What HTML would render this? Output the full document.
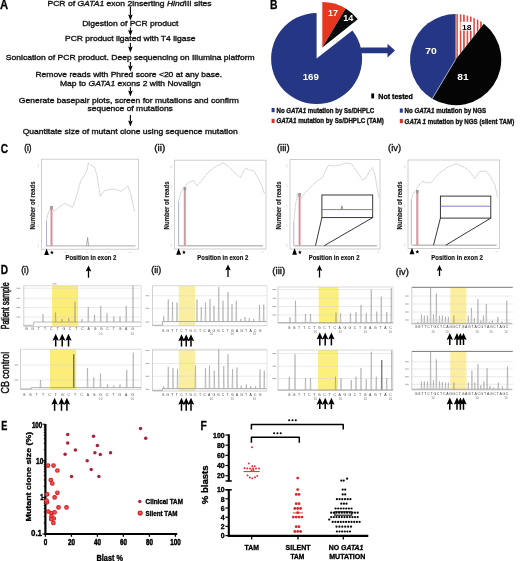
<!DOCTYPE html>
<html><head><meta charset="utf-8"><style>
html,body{margin:0;padding:0;background:#fff;}
svg{display:block;font-family:"Liberation Sans", sans-serif;filter:blur(0.35px);}
</style></head><body>
<svg width="520" height="561" viewBox="0 0 520 561">
<rect width="520" height="561" fill="#fff"/>
<text transform="translate(0.00,8.50) scale(0.9045,1)" font-size="12.40" fill="#000" stroke="#000" stroke-width="0.28" stroke-linejoin="round"><tspan font-weight="bold" font-style="normal">A</tspan></text>
<text transform="translate(47.50,5.60) scale(1.1277,1)" font-size="7.60" fill="#161616" stroke="#161616" stroke-width="0.36" stroke-linejoin="round"><tspan font-weight="normal" font-style="normal">PCR of </tspan><tspan font-weight="normal" font-style="italic">GATA1</tspan><tspan font-weight="normal" font-style="normal"> exon 2inserting </tspan><tspan font-weight="normal" font-style="italic">Hind</tspan><tspan font-weight="normal" font-style="normal">III sites</tspan></text>
<text transform="translate(82.20,25.50) scale(1.1230,1)" font-size="7.60" fill="#161616" stroke="#161616" stroke-width="0.36" stroke-linejoin="round"><tspan font-weight="normal" font-style="normal">Digestion of PCR product</tspan></text>
<text transform="translate(65.00,40.90) scale(1.1215,1)" font-size="7.60" fill="#161616" stroke="#161616" stroke-width="0.36" stroke-linejoin="round"><tspan font-weight="normal" font-style="normal">PCR product ligated with T4 ligase</tspan></text>
<text transform="translate(5.80,59.70) scale(1.1266,1)" font-size="7.60" fill="#161616" stroke="#161616" stroke-width="0.36" stroke-linejoin="round"><tspan font-weight="normal" font-style="normal">Sonication of PCR product. Deep sequencing on Illumina platform</tspan></text>
<text transform="translate(35.40,76.70) scale(1.1226,1)" font-size="7.60" fill="#161616" stroke="#161616" stroke-width="0.36" stroke-linejoin="round"><tspan font-weight="normal" font-style="normal">Remove reads with Phred score &lt;20 at any base.</tspan></text>
<text transform="translate(60.00,85.70) scale(1.1248,1)" font-size="7.60" fill="#161616" stroke="#161616" stroke-width="0.36" stroke-linejoin="round"><tspan font-weight="normal" font-style="normal">Map to </tspan><tspan font-weight="normal" font-style="italic">GATA1</tspan><tspan font-weight="normal" font-style="normal"> exons 2 with Novalign</tspan></text>
<text transform="translate(18.80,102.70) scale(1.1244,1)" font-size="7.60" fill="#161616" stroke="#161616" stroke-width="0.36" stroke-linejoin="round"><tspan font-weight="normal" font-style="normal">Generate basepair plots, screen for mutations and confirm</tspan></text>
<text transform="translate(87.50,110.80) scale(1.1180,1)" font-size="7.60" fill="#161616" stroke="#161616" stroke-width="0.36" stroke-linejoin="round"><tspan font-weight="normal" font-style="normal">sequence of mutations</tspan></text>
<text transform="translate(22.70,133.70) scale(1.1244,1)" font-size="7.60" fill="#161616" stroke="#161616" stroke-width="0.36" stroke-linejoin="round"><tspan font-weight="normal" font-style="normal">Quantitate size of mutant clone using sequence mutation</tspan></text>
<line x1="130.40" y1="6.50" x2="130.40" y2="15.50" stroke="#000" stroke-width="1.10" />
<polygon points="130.40,20.50 128.10,14.50 130.40,15.50 132.70,14.50" fill="#000" />
<line x1="130.40" y1="27.50" x2="130.40" y2="31.00" stroke="#000" stroke-width="1.10" />
<polygon points="130.40,36.00 128.10,30.00 130.40,31.00 132.70,30.00" fill="#000" />
<line x1="130.40" y1="43.00" x2="130.40" y2="47.50" stroke="#000" stroke-width="1.10" />
<polygon points="130.40,52.50 128.10,46.50 130.40,47.50 132.70,46.50" fill="#000" />
<line x1="130.40" y1="62.00" x2="130.40" y2="66.50" stroke="#000" stroke-width="1.10" />
<polygon points="130.40,71.50 128.10,65.50 130.40,66.50 132.70,65.50" fill="#000" />
<line x1="130.40" y1="87.00" x2="130.40" y2="91.50" stroke="#000" stroke-width="1.10" />
<polygon points="130.40,96.50 128.10,90.50 130.40,91.50 132.70,90.50" fill="#000" />
<line x1="130.40" y1="115.00" x2="130.40" y2="121.50" stroke="#000" stroke-width="1.10" />
<polygon points="130.40,126.50 128.10,120.50 130.40,121.50 132.70,120.50" fill="#000" />
<text transform="translate(270.00,8.70) scale(0.8512,1)" font-size="12.20" fill="#000" stroke="#000" stroke-width="0.29" stroke-linejoin="round"><tspan font-weight="bold" font-style="normal">B</tspan></text>
<path d="M316.60,58.60 L352.36,30.46 A45.50,45.50 0 1 1 316.60,13.10 Z" fill="#243684" />
<path d="M322.30,47.60 L322.30,2.10 A45.50,45.50 0 0 1 345.60,8.52 Z" fill="#e4371e" />
<path d="M322.30,47.60 L345.60,8.52 A45.50,45.50 0 0 1 357.81,19.15 Z" fill="#0a0a0a" />
<polygon points="360.50,47.60 387.50,47.60 387.50,43.80 395.00,50.50 387.50,57.40 387.50,53.30 360.50,53.30" fill="#243684" />
<defs><pattern id="stp" patternUnits="userSpaceOnUse" width="3.4" height="10" x="456.4"><rect x="0" y="0" width="1.5" height="10" fill="#d8402c"/></pattern></defs>
<path d="M455.60,59.60 L455.60,14.00 A45.60,45.60 0 0 1 483.86,23.81 Z" fill="#fff" />
<path d="M455.60,59.60 L455.60,14.00 A45.60,45.60 0 0 1 483.86,23.81 Z" fill="url(#stp)" />
<path d="M455.60,59.60 L483.86,23.81 A45.60,45.60 0 0 1 432.18,98.73 Z" fill="#050505" />
<path d="M455.60,59.60 L432.18,98.73 A45.60,45.60 0 0 1 455.60,14.00 Z" fill="#243684" />
<line x1="455.60" y1="59.60" x2="432.18" y2="98.73" stroke="#c8cce0" stroke-width="0.70" />
<text transform="translate(302.70,79.70) scale(1.1033,1)" font-size="8.80" fill="#fff"><tspan font-weight="bold" font-style="normal">169</tspan></text>
<text transform="translate(328.00,15.80) scale(1.0012,1)" font-size="8.80" fill="#fff"><tspan font-weight="bold" font-style="normal">17</tspan></text>
<text transform="translate(343.20,21.20) scale(1.0318,1)" font-size="8.80" fill="#fff"><tspan font-weight="bold" font-style="normal">14</tspan></text>
<text transform="translate(425.20,53.80) scale(1.1850,1)" font-size="8.80" fill="#fff"><tspan font-weight="bold" font-style="normal">70</tspan></text>
<text transform="translate(457.20,80.30) scale(1.1646,1)" font-size="8.80" fill="#fff"><tspan font-weight="bold" font-style="normal">81</tspan></text>
<rect x="460.50" y="21.80" width="12.50" height="8.80" fill="#fff" />
<text transform="translate(462.00,29.90) scale(1.1238,1)" font-size="7.60" fill="#000"><tspan font-weight="bold" font-style="normal">18</tspan></text>
<rect x="371.30" y="93.40" width="2.80" height="5.00" fill="#000" />
<text transform="translate(378.30,98.60) scale(0.9563,1)" font-size="7.40" fill="#000" stroke="#000" stroke-width="0.31" stroke-linejoin="round"><tspan font-weight="bold" font-style="normal">Not tested</tspan></text>
<rect x="271.60" y="108.00" width="3.00" height="4.20" fill="#2b3a8c" />
<text transform="translate(276.50,112.60) scale(0.8259,1)" font-size="7.40" fill="#111" stroke="#111" stroke-width="0.36" stroke-linejoin="round"><tspan font-weight="bold" font-style="normal">No </tspan><tspan font-weight="bold" font-style="italic">GATA1</tspan><tspan font-weight="bold" font-style="normal"> mutation by Ss/DHPLC</tspan></text>
<rect x="271.60" y="118.80" width="3.00" height="4.20" fill="#d8302a" />
<text transform="translate(276.50,123.40) scale(0.8328,1)" font-size="7.40" fill="#111" stroke="#111" stroke-width="0.36" stroke-linejoin="round"><tspan font-weight="bold" font-style="italic">GATA1</tspan><tspan font-weight="bold" font-style="normal"> mutation by Ss/DHPLC (TAM)</tspan></text>
<rect x="399.80" y="108.50" width="3.00" height="4.20" fill="#2b3a8c" />
<text transform="translate(404.60,113.10) scale(0.8338,1)" font-size="7.40" fill="#111" stroke="#111" stroke-width="0.36" stroke-linejoin="round"><tspan font-weight="bold" font-style="normal">No </tspan><tspan font-weight="bold" font-style="italic">GATA1</tspan><tspan font-weight="bold" font-style="normal"> mutation by NGS</tspan></text>
<rect x="399.80" y="119.00" width="3.00" height="4.20" fill="#d8302a" />
<text transform="translate(404.60,123.60) scale(0.8345,1)" font-size="7.40" fill="#111" stroke="#111" stroke-width="0.36" stroke-linejoin="round"><tspan font-weight="bold" font-style="italic">GATA 1</tspan><tspan font-weight="bold" font-style="normal"> mutation by NGS (silent TAM)</tspan></text>
<text transform="translate(0.80,153.10) scale(0.8152,1)" font-size="12.40" fill="#000" stroke="#000" stroke-width="0.31" stroke-linejoin="round"><tspan font-weight="bold" font-style="normal">C</tspan></text>
<text transform="translate(24.20,151.20) scale(0.8933,1)" font-size="9.20" fill="#111" stroke="#111" stroke-width="0.39" stroke-linejoin="round"><tspan font-weight="normal" font-style="normal">(i)</tspan></text>
<rect x="41.50" y="159.20" width="97.00" height="90.00" fill="none" stroke="#c4c4c4" stroke-width="0.8"/>
<line x1="38.30" y1="244.20" x2="38.30" y2="247.20" stroke="#c8c8c8" stroke-width="0.60" />
<line x1="38.30" y1="224.20" x2="38.30" y2="227.20" stroke="#c8c8c8" stroke-width="0.60" />
<line x1="38.30" y1="204.20" x2="38.30" y2="207.20" stroke="#c8c8c8" stroke-width="0.60" />
<line x1="38.30" y1="184.20" x2="38.30" y2="187.20" stroke="#c8c8c8" stroke-width="0.60" />
<line x1="38.30" y1="164.20" x2="38.30" y2="167.20" stroke="#c8c8c8" stroke-width="0.60" />
<line x1="64.30" y1="252.40" x2="66.70" y2="252.40" stroke="#c8c8c8" stroke-width="0.60" />
<line x1="85.80" y1="252.40" x2="88.20" y2="252.40" stroke="#c8c8c8" stroke-width="0.60" />
<line x1="107.30" y1="252.40" x2="109.70" y2="252.40" stroke="#c8c8c8" stroke-width="0.60" />
<line x1="128.80" y1="252.40" x2="131.20" y2="252.40" stroke="#c8c8c8" stroke-width="0.60" />
<polyline points="46.30,220.80 48.00,214.00 51.20,206.00 53.80,211.40 58.00,208.00 64.60,203.30 68.00,205.00 72.70,207.30 76.00,198.00 80.80,180.40 84.00,176.00 86.20,172.30 87.50,168.00 88.30,162.90 91.00,165.00 94.20,167.00 97.00,175.00 100.20,196.50 104.00,191.00 107.70,189.80 114.00,189.00 121.20,191.20 124.00,189.00 127.90,185.80 131.00,195.00 134.60,211.30" fill="none" stroke="#b4b4b4" stroke-width="0.70" stroke-linejoin="round" stroke-dasharray="1.4,0.5"/>
<line x1="46.00" y1="245.90" x2="135.50" y2="245.90" stroke="#bdbdbd" stroke-width="1.40" />
<line x1="46.50" y1="220.80" x2="46.50" y2="246.20" stroke="#8e8ed8" stroke-width="0.70" />
<rect x="50.30" y="206.00" width="2.40" height="40.20" fill="#eab4b8" />
<line x1="51.40" y1="206.00" x2="51.40" y2="246.20" stroke="#7a7a7a" stroke-width="0.45" />
<rect x="50.30" y="206.00" width="2.40" height="3.50" fill="#9a9a9a" />
<polyline points="86.60,245.90 87.60,237.50 88.60,245.90" fill="none" stroke="#777" stroke-width="0.60" stroke-linejoin="round" />
<text transform="translate(35.10,229.40) rotate(-90) scale(0.8754,1)" font-size="6.90" fill="#1a1a1a" stroke="#1a1a1a" stroke-width="0.17" stroke-linejoin="round"><tspan font-weight="bold" font-style="normal">Number of reads</tspan></text>
<polygon points="46.60,248.40 44.20,255.00 49.00,255.00" fill="#000" />
<polygon points="51.90,250.50 52.43,251.77 53.80,251.88 52.76,252.78 53.08,254.12 51.90,253.40 50.72,254.12 51.04,252.78 50.00,251.88 51.37,251.77" fill="#000" />
<text transform="translate(65.40,259.60) scale(0.9048,1)" font-size="6.60" fill="#111" stroke="#111" stroke-width="0.17" stroke-linejoin="round"><tspan font-weight="bold" font-style="normal">Position in exon 2</tspan></text>
<text transform="translate(154.20,151.20) scale(1.0963,1)" font-size="9.20" fill="#111" stroke="#111" stroke-width="0.35" stroke-linejoin="round"><tspan font-weight="normal" font-style="normal">(ii)</tspan></text>
<rect x="174.40" y="160.20" width="91.60" height="88.80" fill="none" stroke="#c4c4c4" stroke-width="0.8"/>
<line x1="171.20" y1="244.00" x2="171.20" y2="247.00" stroke="#c8c8c8" stroke-width="0.60" />
<line x1="171.20" y1="224.30" x2="171.20" y2="227.30" stroke="#c8c8c8" stroke-width="0.60" />
<line x1="171.20" y1="204.60" x2="171.20" y2="207.60" stroke="#c8c8c8" stroke-width="0.60" />
<line x1="171.20" y1="184.90" x2="171.20" y2="187.90" stroke="#c8c8c8" stroke-width="0.60" />
<line x1="171.20" y1="165.20" x2="171.20" y2="168.20" stroke="#c8c8c8" stroke-width="0.60" />
<line x1="197.20" y1="252.20" x2="199.60" y2="252.20" stroke="#c8c8c8" stroke-width="0.60" />
<line x1="218.70" y1="252.20" x2="221.10" y2="252.20" stroke="#c8c8c8" stroke-width="0.60" />
<line x1="240.20" y1="252.20" x2="242.60" y2="252.20" stroke="#c8c8c8" stroke-width="0.60" />
<line x1="261.70" y1="252.20" x2="264.10" y2="252.20" stroke="#c8c8c8" stroke-width="0.60" />
<polyline points="178.50,202.00 181.00,192.00 183.80,187.00 188.00,183.00 193.30,180.40 197.30,185.80 202.00,180.00 208.00,172.30 215.00,167.00 222.90,162.90 228.00,166.00 234.00,172.00 240.40,177.70 243.00,172.00 245.80,168.30 250.00,170.00 253.90,171.00 258.00,178.00 262.00,186.00 264.60,193.80" fill="none" stroke="#b4b4b4" stroke-width="0.70" stroke-linejoin="round" stroke-dasharray="1.4,0.5"/>
<line x1="178.90" y1="245.70" x2="263.00" y2="245.70" stroke="#bdbdbd" stroke-width="1.40" />
<line x1="178.60" y1="202.00" x2="178.60" y2="246.00" stroke="#8e8ed8" stroke-width="0.70" />
<rect x="183.70" y="187.00" width="2.40" height="59.00" fill="#eab4b8" />
<line x1="184.80" y1="187.00" x2="184.80" y2="246.00" stroke="#7a7a7a" stroke-width="0.45" />
<rect x="183.70" y="187.00" width="2.40" height="3.50" fill="#9a9a9a" />
<text transform="translate(168.70,229.40) rotate(-90) scale(0.8754,1)" font-size="6.90" fill="#1a1a1a" stroke="#1a1a1a" stroke-width="0.17" stroke-linejoin="round"><tspan font-weight="bold" font-style="normal">Number of reads</tspan></text>
<polygon points="178.60,248.20 176.20,254.80 181.00,254.80" fill="#000" />
<polygon points="183.90,250.30 184.43,251.57 185.80,251.68 184.76,252.58 185.08,253.92 183.90,253.20 182.72,253.92 183.04,252.58 182.00,251.68 183.37,251.57" fill="#000" />
<text transform="translate(197.30,259.60) scale(0.9066,1)" font-size="6.60" fill="#111" stroke="#111" stroke-width="0.17" stroke-linejoin="round"><tspan font-weight="bold" font-style="normal">Position in exon 2</tspan></text>
<text transform="translate(276.90,151.20) scale(1.0359,1)" font-size="9.20" fill="#111" stroke="#111" stroke-width="0.35" stroke-linejoin="round"><tspan font-weight="normal" font-style="normal">(iii)</tspan></text>
<rect x="290.00" y="159.50" width="90.00" height="89.50" fill="none" stroke="#c4c4c4" stroke-width="0.8"/>
<line x1="286.80" y1="244.00" x2="286.80" y2="247.00" stroke="#c8c8c8" stroke-width="0.60" />
<line x1="286.80" y1="224.12" x2="286.80" y2="227.12" stroke="#c8c8c8" stroke-width="0.60" />
<line x1="286.80" y1="204.25" x2="286.80" y2="207.25" stroke="#c8c8c8" stroke-width="0.60" />
<line x1="286.80" y1="184.38" x2="286.80" y2="187.38" stroke="#c8c8c8" stroke-width="0.60" />
<line x1="286.80" y1="164.50" x2="286.80" y2="167.50" stroke="#c8c8c8" stroke-width="0.60" />
<line x1="312.80" y1="252.20" x2="315.20" y2="252.20" stroke="#c8c8c8" stroke-width="0.60" />
<line x1="334.30" y1="252.20" x2="336.70" y2="252.20" stroke="#c8c8c8" stroke-width="0.60" />
<line x1="355.80" y1="252.20" x2="358.20" y2="252.20" stroke="#c8c8c8" stroke-width="0.60" />
<line x1="377.30" y1="252.20" x2="379.70" y2="252.20" stroke="#c8c8c8" stroke-width="0.60" />
<polyline points="293.75,222.50 295.50,205.00 297.50,193.75 300.00,200.00 305.00,193.00 311.25,186.25 317.00,181.00 322.50,177.50 326.00,170.00 328.75,165.00 334.00,166.00 340.00,165.00 346.00,163.00 351.25,163.75 356.00,170.00 362.50,180.00 366.00,178.00 369.00,172.00 372.50,167.50 375.00,175.00 378.75,197.50" fill="none" stroke="#b4b4b4" stroke-width="0.70" stroke-linejoin="round" stroke-dasharray="1.4,0.5"/>
<line x1="294.50" y1="245.70" x2="377.00" y2="245.70" stroke="#bdbdbd" stroke-width="1.40" />
<line x1="293.80" y1="222.50" x2="293.80" y2="246.00" stroke="#8e8ed8" stroke-width="0.70" />
<rect x="298.40" y="193.00" width="2.40" height="53.00" fill="#eab4b8" />
<line x1="299.50" y1="193.00" x2="299.50" y2="246.00" stroke="#7a7a7a" stroke-width="0.45" />
<rect x="298.40" y="193.00" width="2.40" height="3.50" fill="#9a9a9a" />
<text transform="translate(280.60,229.40) rotate(-90) scale(0.8754,1)" font-size="6.90" fill="#1a1a1a" stroke="#1a1a1a" stroke-width="0.17" stroke-linejoin="round"><tspan font-weight="bold" font-style="normal">Number of reads</tspan></text>
<polygon points="294.60,248.20 292.20,254.80 297.00,254.80" fill="#000" />
<polygon points="299.90,250.30 300.43,251.57 301.80,251.68 300.76,252.58 301.08,253.92 299.90,253.20 298.72,253.92 299.04,252.58 298.00,251.68 299.37,251.57" fill="#000" />
<text transform="translate(308.75,259.60) scale(0.8986,1)" font-size="6.60" fill="#111" stroke="#111" stroke-width="0.17" stroke-linejoin="round"><tspan font-weight="bold" font-style="normal">Position in exon 2</tspan></text>
<rect x="321.90" y="195.00" width="50.80" height="22.60" fill="#fff" stroke="#222" stroke-width="0.9"/>
<line x1="321.90" y1="209.60" x2="372.70" y2="209.60" stroke="#7a6cc0" stroke-width="0.90" />
<line x1="321.90" y1="217.60" x2="315.50" y2="245.70" stroke="#222" stroke-width="0.90" />
<line x1="372.70" y1="217.60" x2="324.20" y2="245.70" stroke="#222" stroke-width="0.90" />
<text transform="translate(388.10,151.20) scale(1.0257,1)" font-size="9.20" fill="#111" stroke="#111" stroke-width="0.35" stroke-linejoin="round"><tspan font-weight="normal" font-style="normal">(iv)</tspan></text>
<rect x="408.00" y="160.00" width="91.60" height="88.50" fill="none" stroke="#c4c4c4" stroke-width="0.8"/>
<line x1="404.80" y1="243.50" x2="404.80" y2="246.50" stroke="#c8c8c8" stroke-width="0.60" />
<line x1="404.80" y1="223.88" x2="404.80" y2="226.88" stroke="#c8c8c8" stroke-width="0.60" />
<line x1="404.80" y1="204.25" x2="404.80" y2="207.25" stroke="#c8c8c8" stroke-width="0.60" />
<line x1="404.80" y1="184.62" x2="404.80" y2="187.62" stroke="#c8c8c8" stroke-width="0.60" />
<line x1="404.80" y1="165.00" x2="404.80" y2="168.00" stroke="#c8c8c8" stroke-width="0.60" />
<line x1="430.80" y1="251.70" x2="433.20" y2="251.70" stroke="#c8c8c8" stroke-width="0.60" />
<line x1="452.30" y1="251.70" x2="454.70" y2="251.70" stroke="#c8c8c8" stroke-width="0.60" />
<line x1="473.80" y1="251.70" x2="476.20" y2="251.70" stroke="#c8c8c8" stroke-width="0.60" />
<line x1="495.30" y1="251.70" x2="497.70" y2="251.70" stroke="#c8c8c8" stroke-width="0.60" />
<polyline points="411.25,200.00 413.00,194.00 416.25,190.00 419.00,185.00 422.50,181.25 427.00,183.00 431.25,182.50 436.00,177.00 440.00,172.50 448.00,167.00 456.25,163.75 465.00,167.50 470.00,172.00 475.00,178.75 478.00,174.00 480.00,171.25 486.25,171.25 490.00,176.00 495.00,185.00 497.50,197.50" fill="none" stroke="#b4b4b4" stroke-width="0.70" stroke-linejoin="round" stroke-dasharray="1.4,0.5"/>
<line x1="412.50" y1="245.20" x2="496.60" y2="245.20" stroke="#bdbdbd" stroke-width="1.40" />
<line x1="411.30" y1="200.00" x2="411.30" y2="245.50" stroke="#8e8ed8" stroke-width="0.70" />
<rect x="416.10" y="190.00" width="2.40" height="55.50" fill="#eab4b8" />
<line x1="417.20" y1="190.00" x2="417.20" y2="245.50" stroke="#7a7a7a" stroke-width="0.45" />
<rect x="416.10" y="190.00" width="2.40" height="3.50" fill="#9a9a9a" />
<text transform="translate(402.20,229.40) rotate(-90) scale(0.8754,1)" font-size="6.90" fill="#1a1a1a" stroke="#1a1a1a" stroke-width="0.17" stroke-linejoin="round"><tspan font-weight="bold" font-style="normal">Number of reads</tspan></text>
<polygon points="412.00,247.70 409.60,254.30 414.40,254.30" fill="#000" />
<polygon points="417.30,249.80 417.83,251.07 419.20,251.18 418.16,252.08 418.48,253.42 417.30,252.70 416.12,253.42 416.44,252.08 415.40,251.18 416.77,251.07" fill="#000" />
<text transform="translate(431.25,259.60) scale(0.9163,1)" font-size="6.60" fill="#111" stroke="#111" stroke-width="0.16" stroke-linejoin="round"><tspan font-weight="bold" font-style="normal">Position in exon 2</tspan></text>
<rect x="440.40" y="196.10" width="50.40" height="22.00" fill="#fff" stroke="#222" stroke-width="0.9"/>
<line x1="440.40" y1="206.20" x2="490.80" y2="206.20" stroke="#7a6cc0" stroke-width="0.90" />
<line x1="440.40" y1="218.10" x2="433.50" y2="245.20" stroke="#222" stroke-width="0.90" />
<line x1="490.80" y1="218.10" x2="445.80" y2="245.20" stroke="#222" stroke-width="0.90" />
<polyline points="341.00,209.60 341.90,205.80 342.80,209.60" fill="none" stroke="#555" stroke-width="0.60" stroke-linejoin="round" />
<text transform="translate(0.80,274.20) scale(0.8423,1)" font-size="12.00" fill="#000" stroke="#000" stroke-width="0.30" stroke-linejoin="round"><tspan font-weight="bold" font-style="normal">D</tspan></text>
<text transform="translate(21.20,273.10) scale(0.9102,1)" font-size="9.40" fill="#111" stroke="#111" stroke-width="0.38" stroke-linejoin="round"><tspan font-weight="normal" font-style="normal">(i)</tspan></text>
<text transform="translate(151.30,272.80) scale(0.9580,1)" font-size="9.40" fill="#111" stroke="#111" stroke-width="0.37" stroke-linejoin="round"><tspan font-weight="normal" font-style="normal">(ii)</tspan></text>
<text transform="translate(272.20,274.30) scale(1.0457,1)" font-size="9.40" fill="#111" stroke="#111" stroke-width="0.35" stroke-linejoin="round"><tspan font-weight="normal" font-style="normal">(iii)</tspan></text>
<text transform="translate(395.80,275.00) scale(0.9962,1)" font-size="9.40" fill="#111" stroke="#111" stroke-width="0.35" stroke-linejoin="round"><tspan font-weight="normal" font-style="normal">(iv)</tspan></text>
<polygon points="88.50,265.60 85.70,271.60 88.50,270.40 91.30,271.60" fill="#000" />
<line x1="88.50" y1="270.10" x2="88.50" y2="277.70" stroke="#000" stroke-width="1.30" />
<polygon points="228.00,264.50 225.20,270.50 228.00,269.30 230.80,270.50" fill="#000" />
<line x1="228.00" y1="269.00" x2="228.00" y2="277.00" stroke="#000" stroke-width="1.30" />
<polygon points="319.50,265.00 316.70,271.00 319.50,269.80 322.30,271.00" fill="#000" />
<line x1="319.50" y1="269.50" x2="319.50" y2="277.50" stroke="#000" stroke-width="1.30" />
<polygon points="439.50,265.00 436.70,271.00 439.50,269.80 442.30,271.00" fill="#000" />
<line x1="439.50" y1="269.50" x2="439.50" y2="276.00" stroke="#000" stroke-width="1.30" />
<text transform="translate(8.90,329.30) rotate(-90) scale(0.7105,1)" font-size="10.00" fill="#111" stroke="#111" stroke-width="0.56" stroke-linejoin="round"><tspan font-weight="normal" font-style="normal">Patient sample</tspan></text>
<text transform="translate(8.90,393.50) rotate(-90) scale(0.8932,1)" font-size="10.00" fill="#111" stroke="#111" stroke-width="0.45" stroke-linejoin="round"><tspan font-weight="normal" font-style="normal">CB control</tspan></text>
<rect x="52.00" y="285.75" width="26.00" height="40.75" fill="#fcec78" />
<line x1="23.75" y1="285.75" x2="141.25" y2="285.75" stroke="#c9c9c9" stroke-width="0.70" />
<line x1="141.25" y1="285.75" x2="141.25" y2="326.50" stroke="#d0d0d0" stroke-width="0.60" />
<line x1="23.75" y1="288.25" x2="141.25" y2="288.25" stroke="#d6d6d6" stroke-width="0.50" />
<line x1="23.75" y1="298.25" x2="141.25" y2="298.25" stroke="#d6d6d6" stroke-width="0.50" />
<line x1="23.75" y1="307.50" x2="141.25" y2="307.50" stroke="#d6d6d6" stroke-width="0.50" />
<line x1="23.75" y1="317.00" x2="141.25" y2="317.00" stroke="#d6d6d6" stroke-width="0.50" />
<line x1="23.75" y1="285.75" x2="23.75" y2="326.50" stroke="#bdbdbd" stroke-width="0.70" />
<line x1="23.75" y1="326.50" x2="141.25" y2="326.50" stroke="#bdbdbd" stroke-width="0.70" />
<line x1="16.50" y1="288.25" x2="20.30" y2="288.25" stroke="#b0b0b0" stroke-width="1.00" />
<line x1="16.50" y1="298.25" x2="20.30" y2="298.25" stroke="#b0b0b0" stroke-width="1.00" />
<line x1="16.50" y1="307.50" x2="20.30" y2="307.50" stroke="#b0b0b0" stroke-width="1.00" />
<line x1="16.50" y1="317.00" x2="20.30" y2="317.00" stroke="#b0b0b0" stroke-width="1.00" />
<polyline points="23.75,325.30 33.75,325.30 33.75,322.00 141.00,322.00" fill="none" stroke="#8c8c8c" stroke-width="0.60" stroke-linejoin="round" />
<polyline points="42.55,322.00 43.00,314.00 43.45,322.00" fill="none" stroke="#8a8a8a" stroke-width="0.45" stroke-linejoin="round" />
<polyline points="55.05,322.00 55.50,312.50 55.95,322.00" fill="none" stroke="#8a8a8a" stroke-width="0.45" stroke-linejoin="round" />
<polyline points="61.55,322.00 62.00,319.00 62.45,322.00" fill="none" stroke="#8a8a8a" stroke-width="0.45" stroke-linejoin="round" />
<polyline points="68.30,322.00 68.75,318.25 69.20,322.00" fill="none" stroke="#8a8a8a" stroke-width="0.45" stroke-linejoin="round" />
<polyline points="74.55,322.00 75.00,301.50 75.45,322.00" fill="none" stroke="#8a8a8a" stroke-width="0.45" stroke-linejoin="round" />
<polyline points="81.55,322.00 82.00,319.00 82.45,322.00" fill="none" stroke="#8a8a8a" stroke-width="0.45" stroke-linejoin="round" />
<polyline points="87.80,322.00 88.25,307.00 88.70,322.00" fill="none" stroke="#8a8a8a" stroke-width="0.45" stroke-linejoin="round" />
<polyline points="94.05,322.00 94.50,314.50 94.95,322.00" fill="none" stroke="#8a8a8a" stroke-width="0.45" stroke-linejoin="round" />
<polyline points="100.30,322.00 100.75,305.75 101.20,322.00" fill="none" stroke="#8a8a8a" stroke-width="0.45" stroke-linejoin="round" />
<polyline points="106.55,322.00 107.00,313.25 107.45,322.00" fill="none" stroke="#8a8a8a" stroke-width="0.45" stroke-linejoin="round" />
<polyline points="113.30,322.00 113.75,316.50 114.20,322.00" fill="none" stroke="#8a8a8a" stroke-width="0.45" stroke-linejoin="round" />
<polyline points="119.55,322.00 120.00,316.50 120.45,322.00" fill="none" stroke="#8a8a8a" stroke-width="0.45" stroke-linejoin="round" />
<polyline points="125.80,322.00 126.25,305.75 126.70,322.00" fill="none" stroke="#8a8a8a" stroke-width="0.45" stroke-linejoin="round" />
<polyline points="132.55,322.00 133.00,285.75 133.45,322.00" fill="none" stroke="#8a8a8a" stroke-width="0.45" stroke-linejoin="round" />
<text x="26.25" y="330.40" font-size="3.5" fill="#444" text-anchor="middle">G</text>
<text x="32.50" y="330.40" font-size="3.5" fill="#444" text-anchor="middle">G</text>
<text x="38.75" y="330.40" font-size="3.5" fill="#444" text-anchor="middle">T</text>
<text x="45.00" y="330.40" font-size="3.5" fill="#444" text-anchor="middle">T</text>
<text x="51.25" y="330.40" font-size="3.5" fill="#444" text-anchor="middle">C</text>
<text x="57.50" y="330.40" font-size="3.5" fill="#444" text-anchor="middle">T</text>
<text x="63.75" y="330.40" font-size="3.5" fill="#444" text-anchor="middle">G</text>
<text x="70.00" y="330.40" font-size="3.5" fill="#444" text-anchor="middle">C</text>
<text x="76.25" y="330.40" font-size="3.5" fill="#444" text-anchor="middle">T</text>
<text x="82.50" y="330.40" font-size="3.5" fill="#444" text-anchor="middle">C</text>
<text x="88.75" y="330.40" font-size="3.5" fill="#444" text-anchor="middle">A</text>
<text x="95.00" y="330.40" font-size="3.5" fill="#444" text-anchor="middle">G</text>
<text x="101.25" y="330.40" font-size="3.5" fill="#444" text-anchor="middle">G</text>
<text x="107.50" y="330.40" font-size="3.5" fill="#444" text-anchor="middle">C</text>
<text x="113.75" y="330.40" font-size="3.5" fill="#444" text-anchor="middle">T</text>
<text x="120.00" y="330.40" font-size="3.5" fill="#444" text-anchor="middle">G</text>
<text x="126.25" y="330.40" font-size="3.5" fill="#444" text-anchor="middle">A</text>
<text x="132.50" y="330.40" font-size="3.5" fill="#444" text-anchor="middle">G</text>
<text x="100.75" y="335.10" font-size="3.0" fill="#777" text-anchor="middle">10</text>
<text x="132.50" y="335.10" font-size="3.0" fill="#777" text-anchor="middle">10</text>
<rect x="52.50" y="283.50" width="4.00" height="0.80" fill="#e07080" />
<rect x="50.00" y="349.25" width="26.25" height="40.00" fill="#fcec78" />
<line x1="20.50" y1="349.25" x2="141.25" y2="349.25" stroke="#c9c9c9" stroke-width="0.70" />
<line x1="141.25" y1="349.25" x2="141.25" y2="389.25" stroke="#d0d0d0" stroke-width="0.60" />
<line x1="20.50" y1="365.00" x2="141.25" y2="365.00" stroke="#d6d6d6" stroke-width="0.50" />
<line x1="20.50" y1="380.00" x2="141.25" y2="380.00" stroke="#d6d6d6" stroke-width="0.50" />
<line x1="20.50" y1="349.25" x2="20.50" y2="389.25" stroke="#bdbdbd" stroke-width="0.70" />
<line x1="20.50" y1="389.25" x2="141.25" y2="389.25" stroke="#bdbdbd" stroke-width="0.70" />
<line x1="14.50" y1="365.00" x2="18.30" y2="365.00" stroke="#b0b0b0" stroke-width="1.00" />
<line x1="14.50" y1="380.00" x2="18.30" y2="380.00" stroke="#b0b0b0" stroke-width="1.00" />
<polyline points="20.50,389.00 31.25,389.00 31.25,387.50 141.00,387.50" fill="none" stroke="#8c8c8c" stroke-width="0.60" stroke-linejoin="round" />
<polyline points="40.05,387.50 40.50,380.00 40.95,387.50" fill="none" stroke="#8a8a8a" stroke-width="0.45" stroke-linejoin="round" />
<polyline points="73.30,387.50 73.75,354.25 74.20,387.50" fill="none" stroke="#8a8a8a" stroke-width="0.45" stroke-linejoin="round" />
<polyline points="87.05,387.50 87.50,368.00 87.95,387.50" fill="none" stroke="#8a8a8a" stroke-width="0.45" stroke-linejoin="round" />
<polyline points="93.30,387.50 93.75,377.50 94.20,387.50" fill="none" stroke="#8a8a8a" stroke-width="0.45" stroke-linejoin="round" />
<polyline points="100.05,387.50 100.50,373.50 100.95,387.50" fill="none" stroke="#8a8a8a" stroke-width="0.45" stroke-linejoin="round" />
<polyline points="107.05,387.50 107.50,384.25 107.95,387.50" fill="none" stroke="#8a8a8a" stroke-width="0.45" stroke-linejoin="round" />
<polyline points="113.30,387.50 113.75,385.50 114.20,387.50" fill="none" stroke="#8a8a8a" stroke-width="0.45" stroke-linejoin="round" />
<polyline points="119.55,387.50 120.00,384.25 120.45,387.50" fill="none" stroke="#8a8a8a" stroke-width="0.45" stroke-linejoin="round" />
<polyline points="126.30,387.50 126.75,370.00 127.20,387.50" fill="none" stroke="#8a8a8a" stroke-width="0.45" stroke-linejoin="round" />
<polyline points="132.80,387.50 133.25,352.50 133.70,387.50" fill="none" stroke="#8a8a8a" stroke-width="0.45" stroke-linejoin="round" />
<text x="24.00" y="396.10" font-size="3.5" fill="#444" text-anchor="middle">G</text>
<text x="30.38" y="396.10" font-size="3.5" fill="#444" text-anchor="middle">G</text>
<text x="36.76" y="396.10" font-size="3.5" fill="#444" text-anchor="middle">T</text>
<text x="43.15" y="396.10" font-size="3.5" fill="#444" text-anchor="middle">T</text>
<text x="49.53" y="396.10" font-size="3.5" fill="#444" text-anchor="middle">C</text>
<text x="55.91" y="396.10" font-size="3.5" fill="#444" text-anchor="middle">T</text>
<text x="62.29" y="396.10" font-size="3.5" fill="#444" text-anchor="middle">G</text>
<text x="68.68" y="396.10" font-size="3.5" fill="#444" text-anchor="middle">C</text>
<text x="75.06" y="396.10" font-size="3.5" fill="#444" text-anchor="middle">T</text>
<text x="81.44" y="396.10" font-size="3.5" fill="#444" text-anchor="middle">C</text>
<text x="87.82" y="396.10" font-size="3.5" fill="#444" text-anchor="middle">A</text>
<text x="94.21" y="396.10" font-size="3.5" fill="#444" text-anchor="middle">G</text>
<text x="100.59" y="396.10" font-size="3.5" fill="#444" text-anchor="middle">G</text>
<text x="106.97" y="396.10" font-size="3.5" fill="#444" text-anchor="middle">C</text>
<text x="113.35" y="396.10" font-size="3.5" fill="#444" text-anchor="middle">T</text>
<text x="119.74" y="396.10" font-size="3.5" fill="#444" text-anchor="middle">G</text>
<text x="126.12" y="396.10" font-size="3.5" fill="#444" text-anchor="middle">A</text>
<text x="132.50" y="396.10" font-size="3.5" fill="#444" text-anchor="middle">G</text>
<text x="100.75" y="400.10" font-size="3.0" fill="#777" text-anchor="middle">10</text>
<text x="132.50" y="400.10" font-size="3.0" fill="#777" text-anchor="middle">10</text>
<line x1="73.75" y1="354.25" x2="73.75" y2="387.50" stroke="#555" stroke-width="0.90" />
<rect x="178.75" y="285.75" width="16.25" height="40.00" fill="#faeea0" />
<line x1="152.50" y1="285.75" x2="267.00" y2="285.75" stroke="#c9c9c9" stroke-width="0.70" />
<line x1="267.00" y1="285.75" x2="267.00" y2="325.75" stroke="#d0d0d0" stroke-width="0.60" />
<line x1="152.50" y1="295.75" x2="267.00" y2="295.75" stroke="#d6d6d6" stroke-width="0.50" />
<line x1="152.50" y1="308.25" x2="267.00" y2="308.25" stroke="#d6d6d6" stroke-width="0.50" />
<line x1="152.50" y1="322.00" x2="267.00" y2="322.00" stroke="#d6d6d6" stroke-width="0.50" />
<line x1="152.50" y1="285.75" x2="152.50" y2="325.75" stroke="#bdbdbd" stroke-width="0.70" />
<line x1="152.50" y1="325.75" x2="267.00" y2="325.75" stroke="#bdbdbd" stroke-width="0.70" />
<line x1="145.50" y1="295.75" x2="149.30" y2="295.75" stroke="#b0b0b0" stroke-width="1.00" />
<line x1="145.50" y1="308.25" x2="149.30" y2="308.25" stroke="#b0b0b0" stroke-width="1.00" />
<line x1="145.50" y1="322.00" x2="149.30" y2="322.00" stroke="#b0b0b0" stroke-width="1.00" />
<polyline points="152.50,325.20 162.50,325.20 162.50,321.50 266.50,321.50" fill="none" stroke="#8c8c8c" stroke-width="0.60" stroke-linejoin="round" />
<polyline points="163.30,321.50 163.75,315.75 164.20,321.50" fill="none" stroke="#8a8a8a" stroke-width="0.45" stroke-linejoin="round" />
<polyline points="167.80,321.50 168.25,299.50 168.70,321.50" fill="none" stroke="#8a8a8a" stroke-width="0.45" stroke-linejoin="round" />
<polyline points="172.05,321.50 172.50,302.00 172.95,321.50" fill="none" stroke="#8a8a8a" stroke-width="0.45" stroke-linejoin="round" />
<polyline points="176.55,321.50 177.00,302.50 177.45,321.50" fill="none" stroke="#8a8a8a" stroke-width="0.45" stroke-linejoin="round" />
<polyline points="196.55,321.50 197.00,299.50 197.45,321.50" fill="none" stroke="#8a8a8a" stroke-width="0.45" stroke-linejoin="round" />
<polyline points="200.80,321.50 201.25,307.00 201.70,321.50" fill="none" stroke="#8a8a8a" stroke-width="0.45" stroke-linejoin="round" />
<polyline points="205.05,321.50 205.50,302.50 205.95,321.50" fill="none" stroke="#8a8a8a" stroke-width="0.45" stroke-linejoin="round" />
<polyline points="209.55,321.50 210.00,299.00 210.45,321.50" fill="none" stroke="#8a8a8a" stroke-width="0.45" stroke-linejoin="round" />
<polyline points="213.55,321.50 214.00,305.75 214.45,321.50" fill="none" stroke="#8a8a8a" stroke-width="0.45" stroke-linejoin="round" />
<polyline points="218.30,321.50 218.75,287.00 219.20,321.50" fill="none" stroke="#8a8a8a" stroke-width="0.45" stroke-linejoin="round" />
<polyline points="222.55,321.50 223.00,300.75 223.45,321.50" fill="none" stroke="#8a8a8a" stroke-width="0.45" stroke-linejoin="round" />
<polyline points="227.55,321.50 228.00,292.00 228.45,321.50" fill="none" stroke="#8a8a8a" stroke-width="0.45" stroke-linejoin="round" />
<polyline points="231.55,321.50 232.00,304.00 232.45,321.50" fill="none" stroke="#8a8a8a" stroke-width="0.45" stroke-linejoin="round" />
<polyline points="235.80,321.50 236.25,300.75 236.70,321.50" fill="none" stroke="#8a8a8a" stroke-width="0.45" stroke-linejoin="round" />
<polyline points="240.30,321.50 240.75,319.00 241.20,321.50" fill="none" stroke="#8a8a8a" stroke-width="0.45" stroke-linejoin="round" />
<polyline points="244.55,321.50 245.00,317.00 245.45,321.50" fill="none" stroke="#8a8a8a" stroke-width="0.45" stroke-linejoin="round" />
<polyline points="248.80,321.50 249.25,318.25 249.70,321.50" fill="none" stroke="#8a8a8a" stroke-width="0.45" stroke-linejoin="round" />
<polyline points="253.30,321.50 253.75,319.00 254.20,321.50" fill="none" stroke="#8a8a8a" stroke-width="0.45" stroke-linejoin="round" />
<polyline points="259.05,321.50 259.50,305.00 259.95,321.50" fill="none" stroke="#8a8a8a" stroke-width="0.45" stroke-linejoin="round" />
<polyline points="263.30,321.50 263.75,304.50 264.20,321.50" fill="none" stroke="#8a8a8a" stroke-width="0.45" stroke-linejoin="round" />
<text x="163.00" y="331.50" font-size="3.5" fill="#444" text-anchor="middle">G</text>
<text x="167.62" y="331.50" font-size="3.5" fill="#444" text-anchor="middle">G</text>
<text x="172.24" y="331.50" font-size="3.5" fill="#444" text-anchor="middle">T</text>
<text x="176.86" y="331.50" font-size="3.5" fill="#444" text-anchor="middle">T</text>
<text x="181.48" y="331.50" font-size="3.5" fill="#444" text-anchor="middle">C</text>
<text x="186.10" y="331.50" font-size="3.5" fill="#444" text-anchor="middle">T</text>
<text x="190.71" y="331.50" font-size="3.5" fill="#444" text-anchor="middle">G</text>
<text x="195.33" y="331.50" font-size="3.5" fill="#444" text-anchor="middle">C</text>
<text x="199.95" y="331.50" font-size="3.5" fill="#444" text-anchor="middle">T</text>
<text x="204.57" y="331.50" font-size="3.5" fill="#444" text-anchor="middle">C</text>
<text x="209.19" y="331.50" font-size="3.5" fill="#444" text-anchor="middle">A</text>
<text x="213.81" y="331.50" font-size="3.5" fill="#444" text-anchor="middle">G</text>
<text x="218.43" y="331.50" font-size="3.5" fill="#444" text-anchor="middle">G</text>
<text x="223.05" y="331.50" font-size="3.5" fill="#444" text-anchor="middle">C</text>
<text x="227.67" y="331.50" font-size="3.5" fill="#444" text-anchor="middle">T</text>
<text x="232.29" y="331.50" font-size="3.5" fill="#444" text-anchor="middle">G</text>
<text x="236.90" y="331.50" font-size="3.5" fill="#444" text-anchor="middle">A</text>
<text x="241.52" y="331.50" font-size="3.5" fill="#444" text-anchor="middle">G</text>
<text x="246.14" y="331.50" font-size="3.5" fill="#444" text-anchor="middle">T</text>
<text x="250.76" y="331.50" font-size="3.5" fill="#444" text-anchor="middle">A</text>
<text x="255.38" y="331.50" font-size="3.5" fill="#444" text-anchor="middle">C</text>
<text x="260.00" y="331.50" font-size="3.5" fill="#444" text-anchor="middle">G</text>
<text x="211.25" y="335.10" font-size="3.0" fill="#777" text-anchor="middle">10</text>
<text x="232.50" y="335.10" font-size="3.0" fill="#777" text-anchor="middle">10</text>
<text x="254.50" y="335.10" font-size="3.0" fill="#777" text-anchor="middle">10</text>
<rect x="178.75" y="349.25" width="16.25" height="41.75" fill="#faeea0" />
<line x1="152.50" y1="349.25" x2="267.00" y2="349.25" stroke="#c9c9c9" stroke-width="0.70" />
<line x1="267.00" y1="349.25" x2="267.00" y2="391.00" stroke="#d0d0d0" stroke-width="0.60" />
<line x1="152.50" y1="350.50" x2="267.00" y2="350.50" stroke="#d6d6d6" stroke-width="0.50" />
<line x1="152.50" y1="363.50" x2="267.00" y2="363.50" stroke="#d6d6d6" stroke-width="0.50" />
<line x1="152.50" y1="376.25" x2="267.00" y2="376.25" stroke="#d6d6d6" stroke-width="0.50" />
<line x1="152.50" y1="389.25" x2="267.00" y2="389.25" stroke="#d6d6d6" stroke-width="0.50" />
<line x1="152.50" y1="349.25" x2="152.50" y2="391.00" stroke="#bdbdbd" stroke-width="0.70" />
<line x1="152.50" y1="391.00" x2="267.00" y2="391.00" stroke="#bdbdbd" stroke-width="0.70" />
<line x1="145.50" y1="350.50" x2="149.30" y2="350.50" stroke="#b0b0b0" stroke-width="1.00" />
<line x1="145.50" y1="363.50" x2="149.30" y2="363.50" stroke="#b0b0b0" stroke-width="1.00" />
<line x1="145.50" y1="376.25" x2="149.30" y2="376.25" stroke="#b0b0b0" stroke-width="1.00" />
<line x1="145.50" y1="389.25" x2="149.30" y2="389.25" stroke="#b0b0b0" stroke-width="1.00" />
<polyline points="152.50,390.60 162.50,390.60 162.50,388.50 266.50,388.50" fill="none" stroke="#8c8c8c" stroke-width="0.60" stroke-linejoin="round" />
<polyline points="163.30,388.50 163.75,386.00 164.20,388.50" fill="none" stroke="#8a8a8a" stroke-width="0.45" stroke-linejoin="round" />
<polyline points="167.80,388.50 168.25,366.75 168.70,388.50" fill="none" stroke="#8a8a8a" stroke-width="0.45" stroke-linejoin="round" />
<polyline points="172.55,388.50 173.00,368.00 173.45,388.50" fill="none" stroke="#8a8a8a" stroke-width="0.45" stroke-linejoin="round" />
<polyline points="177.05,388.50 177.50,369.25 177.95,388.50" fill="none" stroke="#8a8a8a" stroke-width="0.45" stroke-linejoin="round" />
<polyline points="195.05,388.50 195.50,365.50 195.95,388.50" fill="none" stroke="#8a8a8a" stroke-width="0.45" stroke-linejoin="round" />
<polyline points="205.05,388.50 205.50,368.00 205.95,388.50" fill="none" stroke="#8a8a8a" stroke-width="0.45" stroke-linejoin="round" />
<polyline points="209.05,388.50 209.50,365.50 209.95,388.50" fill="none" stroke="#8a8a8a" stroke-width="0.45" stroke-linejoin="round" />
<polyline points="213.80,388.50 214.25,370.50 214.70,388.50" fill="none" stroke="#8a8a8a" stroke-width="0.45" stroke-linejoin="round" />
<polyline points="218.30,388.50 218.75,349.25 219.20,388.50" fill="none" stroke="#8a8a8a" stroke-width="0.45" stroke-linejoin="round" />
<polyline points="223.30,388.50 223.75,366.00 224.20,388.50" fill="none" stroke="#8a8a8a" stroke-width="0.45" stroke-linejoin="round" />
<polyline points="227.55,388.50 228.00,354.25 228.45,388.50" fill="none" stroke="#8a8a8a" stroke-width="0.45" stroke-linejoin="round" />
<polyline points="232.05,388.50 232.50,369.25 232.95,388.50" fill="none" stroke="#8a8a8a" stroke-width="0.45" stroke-linejoin="round" />
<polyline points="236.55,388.50 237.00,367.50 237.45,388.50" fill="none" stroke="#8a8a8a" stroke-width="0.45" stroke-linejoin="round" />
<polyline points="240.80,388.50 241.25,385.50 241.70,388.50" fill="none" stroke="#8a8a8a" stroke-width="0.45" stroke-linejoin="round" />
<polyline points="245.80,388.50 246.25,384.25 246.70,388.50" fill="none" stroke="#8a8a8a" stroke-width="0.45" stroke-linejoin="round" />
<polyline points="250.05,388.50 250.50,386.00 250.95,388.50" fill="none" stroke="#8a8a8a" stroke-width="0.45" stroke-linejoin="round" />
<polyline points="255.05,388.50 255.50,386.00 255.95,388.50" fill="none" stroke="#8a8a8a" stroke-width="0.45" stroke-linejoin="round" />
<polyline points="259.55,388.50 260.00,369.25 260.45,388.50" fill="none" stroke="#8a8a8a" stroke-width="0.45" stroke-linejoin="round" />
<polyline points="263.80,388.50 264.25,370.50 264.70,388.50" fill="none" stroke="#8a8a8a" stroke-width="0.45" stroke-linejoin="round" />
<text x="163.00" y="396.20" font-size="3.5" fill="#444" text-anchor="middle">G</text>
<text x="167.62" y="396.20" font-size="3.5" fill="#444" text-anchor="middle">G</text>
<text x="172.24" y="396.20" font-size="3.5" fill="#444" text-anchor="middle">T</text>
<text x="176.86" y="396.20" font-size="3.5" fill="#444" text-anchor="middle">T</text>
<text x="181.48" y="396.20" font-size="3.5" fill="#444" text-anchor="middle">C</text>
<text x="186.10" y="396.20" font-size="3.5" fill="#444" text-anchor="middle">T</text>
<text x="190.71" y="396.20" font-size="3.5" fill="#444" text-anchor="middle">G</text>
<text x="195.33" y="396.20" font-size="3.5" fill="#444" text-anchor="middle">C</text>
<text x="199.95" y="396.20" font-size="3.5" fill="#444" text-anchor="middle">T</text>
<text x="204.57" y="396.20" font-size="3.5" fill="#444" text-anchor="middle">C</text>
<text x="209.19" y="396.20" font-size="3.5" fill="#444" text-anchor="middle">A</text>
<text x="213.81" y="396.20" font-size="3.5" fill="#444" text-anchor="middle">G</text>
<text x="218.43" y="396.20" font-size="3.5" fill="#444" text-anchor="middle">G</text>
<text x="223.05" y="396.20" font-size="3.5" fill="#444" text-anchor="middle">C</text>
<text x="227.67" y="396.20" font-size="3.5" fill="#444" text-anchor="middle">T</text>
<text x="232.29" y="396.20" font-size="3.5" fill="#444" text-anchor="middle">G</text>
<text x="236.90" y="396.20" font-size="3.5" fill="#444" text-anchor="middle">A</text>
<text x="241.52" y="396.20" font-size="3.5" fill="#444" text-anchor="middle">G</text>
<text x="246.14" y="396.20" font-size="3.5" fill="#444" text-anchor="middle">T</text>
<text x="250.76" y="396.20" font-size="3.5" fill="#444" text-anchor="middle">A</text>
<text x="255.38" y="396.20" font-size="3.5" fill="#444" text-anchor="middle">C</text>
<text x="260.00" y="396.20" font-size="3.5" fill="#444" text-anchor="middle">G</text>
<text x="211.25" y="400.10" font-size="3.0" fill="#777" text-anchor="middle">10</text>
<text x="232.50" y="400.10" font-size="3.0" fill="#777" text-anchor="middle">10</text>
<text x="254.50" y="400.10" font-size="3.0" fill="#777" text-anchor="middle">10</text>
<rect x="318.75" y="287.00" width="19.75" height="36.25" fill="#fdef7c" />
<line x1="278.00" y1="287.00" x2="393.00" y2="287.00" stroke="#c9c9c9" stroke-width="0.70" />
<line x1="393.00" y1="287.00" x2="393.00" y2="323.25" stroke="#d0d0d0" stroke-width="0.60" />
<line x1="278.00" y1="289.50" x2="393.00" y2="289.50" stroke="#d6d6d6" stroke-width="0.50" />
<line x1="278.00" y1="298.25" x2="393.00" y2="298.25" stroke="#d6d6d6" stroke-width="0.50" />
<line x1="278.00" y1="306.50" x2="393.00" y2="306.50" stroke="#d6d6d6" stroke-width="0.50" />
<line x1="278.00" y1="315.00" x2="393.00" y2="315.00" stroke="#d6d6d6" stroke-width="0.50" />
<line x1="278.00" y1="287.00" x2="278.00" y2="323.25" stroke="#bdbdbd" stroke-width="0.70" />
<line x1="278.00" y1="323.25" x2="393.00" y2="323.25" stroke="#bdbdbd" stroke-width="0.70" />
<line x1="272.50" y1="289.50" x2="276.30" y2="289.50" stroke="#b0b0b0" stroke-width="1.00" />
<line x1="272.50" y1="298.25" x2="276.30" y2="298.25" stroke="#b0b0b0" stroke-width="1.00" />
<line x1="272.50" y1="306.50" x2="276.30" y2="306.50" stroke="#b0b0b0" stroke-width="1.00" />
<line x1="272.50" y1="315.00" x2="276.30" y2="315.00" stroke="#b0b0b0" stroke-width="1.00" />
<polyline points="278.00,322.60 393.00,322.60" fill="none" stroke="#8c8c8c" stroke-width="0.60" stroke-linejoin="round" />
<polyline points="289.55,322.60 290.00,317.00 290.45,322.60" fill="none" stroke="#8a8a8a" stroke-width="0.45" stroke-linejoin="round" />
<polyline points="295.05,322.60 295.50,300.75 295.95,322.60" fill="none" stroke="#8a8a8a" stroke-width="0.45" stroke-linejoin="round" />
<polyline points="305.05,322.60 305.50,314.00 305.95,322.60" fill="none" stroke="#8a8a8a" stroke-width="0.45" stroke-linejoin="round" />
<polyline points="310.05,322.60 310.50,314.00 310.95,322.60" fill="none" stroke="#8a8a8a" stroke-width="0.45" stroke-linejoin="round" />
<polyline points="335.55,322.60 336.00,312.50 336.45,322.60" fill="none" stroke="#8a8a8a" stroke-width="0.45" stroke-linejoin="round" />
<polyline points="340.05,322.60 340.50,313.25 340.95,322.60" fill="none" stroke="#8a8a8a" stroke-width="0.45" stroke-linejoin="round" />
<polyline points="350.05,322.60 350.50,313.25 350.95,322.60" fill="none" stroke="#8a8a8a" stroke-width="0.45" stroke-linejoin="round" />
<polyline points="355.55,322.60 356.00,312.00 356.45,322.60" fill="none" stroke="#8a8a8a" stroke-width="0.45" stroke-linejoin="round" />
<polyline points="360.55,322.60 361.00,305.00 361.45,322.60" fill="none" stroke="#8a8a8a" stroke-width="0.45" stroke-linejoin="round" />
<polyline points="365.80,322.60 366.25,313.25 366.70,322.60" fill="none" stroke="#8a8a8a" stroke-width="0.45" stroke-linejoin="round" />
<polyline points="370.80,322.60 371.25,289.50 371.70,322.60" fill="none" stroke="#8a8a8a" stroke-width="0.45" stroke-linejoin="round" />
<polyline points="376.30,322.60 376.75,311.50 377.20,322.60" fill="none" stroke="#8a8a8a" stroke-width="0.45" stroke-linejoin="round" />
<polyline points="380.80,322.60 381.25,296.50 381.70,322.60" fill="none" stroke="#8a8a8a" stroke-width="0.45" stroke-linejoin="round" />
<polyline points="386.30,322.60 386.75,312.00 387.20,322.60" fill="none" stroke="#8a8a8a" stroke-width="0.45" stroke-linejoin="round" />
<polyline points="390.80,322.60 391.25,288.25 391.70,322.60" fill="none" stroke="#8a8a8a" stroke-width="0.45" stroke-linejoin="round" />
<text x="289.00" y="329.00" font-size="3.5" fill="#444" text-anchor="middle">G</text>
<text x="294.07" y="329.00" font-size="3.5" fill="#444" text-anchor="middle">G</text>
<text x="299.15" y="329.00" font-size="3.5" fill="#444" text-anchor="middle">T</text>
<text x="304.23" y="329.00" font-size="3.5" fill="#444" text-anchor="middle">T</text>
<text x="309.30" y="329.00" font-size="3.5" fill="#444" text-anchor="middle">C</text>
<text x="314.38" y="329.00" font-size="3.5" fill="#444" text-anchor="middle">T</text>
<text x="319.45" y="329.00" font-size="3.5" fill="#444" text-anchor="middle">G</text>
<text x="324.52" y="329.00" font-size="3.5" fill="#444" text-anchor="middle">C</text>
<text x="329.60" y="329.00" font-size="3.5" fill="#444" text-anchor="middle">T</text>
<text x="334.68" y="329.00" font-size="3.5" fill="#444" text-anchor="middle">C</text>
<text x="339.75" y="329.00" font-size="3.5" fill="#444" text-anchor="middle">A</text>
<text x="344.82" y="329.00" font-size="3.5" fill="#444" text-anchor="middle">G</text>
<text x="349.90" y="329.00" font-size="3.5" fill="#444" text-anchor="middle">G</text>
<text x="354.98" y="329.00" font-size="3.5" fill="#444" text-anchor="middle">C</text>
<text x="360.05" y="329.00" font-size="3.5" fill="#444" text-anchor="middle">T</text>
<text x="365.12" y="329.00" font-size="3.5" fill="#444" text-anchor="middle">G</text>
<text x="370.20" y="329.00" font-size="3.5" fill="#444" text-anchor="middle">A</text>
<text x="375.27" y="329.00" font-size="3.5" fill="#444" text-anchor="middle">G</text>
<text x="380.35" y="329.00" font-size="3.5" fill="#444" text-anchor="middle">T</text>
<text x="385.43" y="329.00" font-size="3.5" fill="#444" text-anchor="middle">A</text>
<text x="390.50" y="329.00" font-size="3.5" fill="#444" text-anchor="middle">C</text>
<text x="315.50" y="333.40" font-size="3.0" fill="#777" text-anchor="middle">10</text>
<text x="340.50" y="333.40" font-size="3.0" fill="#777" text-anchor="middle">10</text>
<text x="365.50" y="333.40" font-size="3.0" fill="#777" text-anchor="middle">10</text>
<text x="390.50" y="333.40" font-size="3.0" fill="#777" text-anchor="middle">10</text>
<rect x="318.00" y="350.00" width="20.00" height="40.50" fill="#fdef7c" />
<line x1="278.00" y1="350.00" x2="393.00" y2="350.00" stroke="#c9c9c9" stroke-width="0.70" />
<line x1="393.00" y1="350.00" x2="393.00" y2="390.50" stroke="#d0d0d0" stroke-width="0.60" />
<line x1="278.00" y1="353.50" x2="393.00" y2="353.50" stroke="#d6d6d6" stroke-width="0.50" />
<line x1="278.00" y1="366.25" x2="393.00" y2="366.25" stroke="#d6d6d6" stroke-width="0.50" />
<line x1="278.00" y1="378.50" x2="393.00" y2="378.50" stroke="#d6d6d6" stroke-width="0.50" />
<line x1="278.00" y1="350.00" x2="278.00" y2="390.50" stroke="#bdbdbd" stroke-width="0.70" />
<line x1="278.00" y1="390.50" x2="393.00" y2="390.50" stroke="#bdbdbd" stroke-width="0.70" />
<line x1="272.50" y1="353.50" x2="276.30" y2="353.50" stroke="#b0b0b0" stroke-width="1.00" />
<line x1="272.50" y1="366.25" x2="276.30" y2="366.25" stroke="#b0b0b0" stroke-width="1.00" />
<line x1="272.50" y1="378.50" x2="276.30" y2="378.50" stroke="#b0b0b0" stroke-width="1.00" />
<polyline points="278.00,389.80 393.00,389.80" fill="none" stroke="#8c8c8c" stroke-width="0.60" stroke-linejoin="round" />
<polyline points="288.80,389.80 289.25,376.75 289.70,389.80" fill="none" stroke="#8a8a8a" stroke-width="0.45" stroke-linejoin="round" />
<polyline points="294.55,389.80 295.00,354.25 295.45,389.80" fill="none" stroke="#8a8a8a" stroke-width="0.45" stroke-linejoin="round" />
<polyline points="305.05,389.80 305.50,378.00 305.95,389.80" fill="none" stroke="#8a8a8a" stroke-width="0.45" stroke-linejoin="round" />
<polyline points="310.05,389.80 310.50,378.00 310.95,389.80" fill="none" stroke="#8a8a8a" stroke-width="0.45" stroke-linejoin="round" />
<polyline points="335.05,389.80 335.50,376.75 335.95,389.80" fill="none" stroke="#8a8a8a" stroke-width="0.45" stroke-linejoin="round" />
<polyline points="340.55,389.80 341.00,378.00 341.45,389.80" fill="none" stroke="#8a8a8a" stroke-width="0.45" stroke-linejoin="round" />
<polyline points="350.80,389.80 351.25,380.00 351.70,389.80" fill="none" stroke="#8a8a8a" stroke-width="0.45" stroke-linejoin="round" />
<polyline points="355.55,389.80 356.00,376.75 356.45,389.80" fill="none" stroke="#8a8a8a" stroke-width="0.45" stroke-linejoin="round" />
<polyline points="360.55,389.80 361.00,368.00 361.45,389.80" fill="none" stroke="#8a8a8a" stroke-width="0.45" stroke-linejoin="round" />
<polyline points="365.80,389.80 366.25,379.25 366.70,389.80" fill="none" stroke="#8a8a8a" stroke-width="0.45" stroke-linejoin="round" />
<polyline points="370.80,389.80 371.25,351.75 371.70,389.80" fill="none" stroke="#8a8a8a" stroke-width="0.45" stroke-linejoin="round" />
<polyline points="375.80,389.80 376.25,376.75 376.70,389.80" fill="none" stroke="#8a8a8a" stroke-width="0.45" stroke-linejoin="round" />
<polyline points="381.30,389.80 381.75,360.00 382.20,389.80" fill="none" stroke="#8a8a8a" stroke-width="0.45" stroke-linejoin="round" />
<polyline points="386.30,389.80 386.75,378.00 387.20,389.80" fill="none" stroke="#8a8a8a" stroke-width="0.45" stroke-linejoin="round" />
<polyline points="391.30,389.80 391.75,350.50 392.20,389.80" fill="none" stroke="#8a8a8a" stroke-width="0.45" stroke-linejoin="round" />
<text x="289.00" y="396.20" font-size="3.5" fill="#444" text-anchor="middle">G</text>
<text x="294.07" y="396.20" font-size="3.5" fill="#444" text-anchor="middle">G</text>
<text x="299.15" y="396.20" font-size="3.5" fill="#444" text-anchor="middle">T</text>
<text x="304.23" y="396.20" font-size="3.5" fill="#444" text-anchor="middle">T</text>
<text x="309.30" y="396.20" font-size="3.5" fill="#444" text-anchor="middle">C</text>
<text x="314.38" y="396.20" font-size="3.5" fill="#444" text-anchor="middle">T</text>
<text x="319.45" y="396.20" font-size="3.5" fill="#444" text-anchor="middle">G</text>
<text x="324.52" y="396.20" font-size="3.5" fill="#444" text-anchor="middle">C</text>
<text x="329.60" y="396.20" font-size="3.5" fill="#444" text-anchor="middle">T</text>
<text x="334.68" y="396.20" font-size="3.5" fill="#444" text-anchor="middle">C</text>
<text x="339.75" y="396.20" font-size="3.5" fill="#444" text-anchor="middle">A</text>
<text x="344.82" y="396.20" font-size="3.5" fill="#444" text-anchor="middle">G</text>
<text x="349.90" y="396.20" font-size="3.5" fill="#444" text-anchor="middle">G</text>
<text x="354.98" y="396.20" font-size="3.5" fill="#444" text-anchor="middle">C</text>
<text x="360.05" y="396.20" font-size="3.5" fill="#444" text-anchor="middle">T</text>
<text x="365.12" y="396.20" font-size="3.5" fill="#444" text-anchor="middle">G</text>
<text x="370.20" y="396.20" font-size="3.5" fill="#444" text-anchor="middle">A</text>
<text x="375.27" y="396.20" font-size="3.5" fill="#444" text-anchor="middle">G</text>
<text x="380.35" y="396.20" font-size="3.5" fill="#444" text-anchor="middle">T</text>
<text x="385.43" y="396.20" font-size="3.5" fill="#444" text-anchor="middle">A</text>
<text x="390.50" y="396.20" font-size="3.5" fill="#444" text-anchor="middle">C</text>
<text x="315.50" y="400.10" font-size="3.0" fill="#777" text-anchor="middle">10</text>
<text x="340.50" y="400.10" font-size="3.0" fill="#777" text-anchor="middle">10</text>
<text x="365.50" y="400.10" font-size="3.0" fill="#777" text-anchor="middle">10</text>
<text x="390.50" y="400.10" font-size="3.0" fill="#777" text-anchor="middle">10</text>
<line x1="381.75" y1="360.00" x2="381.75" y2="389.50" stroke="#555" stroke-width="0.80" />
<rect x="450.30" y="287.30" width="16.10" height="36.70" fill="#fdee9e" />
<line x1="411.80" y1="287.30" x2="512.80" y2="287.30" stroke="#6a6a6a" stroke-width="0.90" />
<line x1="411.80" y1="296.00" x2="512.80" y2="296.00" stroke="#d6d6d6" stroke-width="0.50" />
<line x1="411.80" y1="304.00" x2="512.80" y2="304.00" stroke="#d6d6d6" stroke-width="0.50" />
<line x1="411.80" y1="312.00" x2="512.80" y2="312.00" stroke="#d6d6d6" stroke-width="0.50" />
<line x1="411.80" y1="320.00" x2="512.80" y2="320.00" stroke="#d6d6d6" stroke-width="0.50" />
<line x1="411.80" y1="287.30" x2="411.80" y2="324.00" stroke="#bdbdbd" stroke-width="0.70" />
<line x1="411.80" y1="324.00" x2="512.80" y2="324.00" stroke="#bdbdbd" stroke-width="0.70" />
<line x1="405.00" y1="296.00" x2="408.80" y2="296.00" stroke="#b0b0b0" stroke-width="1.00" />
<line x1="405.00" y1="304.00" x2="408.80" y2="304.00" stroke="#b0b0b0" stroke-width="1.00" />
<line x1="405.00" y1="312.00" x2="408.80" y2="312.00" stroke="#b0b0b0" stroke-width="1.00" />
<line x1="405.00" y1="320.00" x2="408.80" y2="320.00" stroke="#b0b0b0" stroke-width="1.00" />
<polyline points="411.80,323.30 512.00,323.30" fill="none" stroke="#8c8c8c" stroke-width="0.60" stroke-linejoin="round" />
<polyline points="417.39,323.30 417.84,321.66 418.29,323.30" fill="none" stroke="#8a8a8a" stroke-width="0.45" stroke-linejoin="round" />
<polyline points="420.99,323.30 421.44,314.45 421.89,323.30" fill="none" stroke="#8a8a8a" stroke-width="0.45" stroke-linejoin="round" />
<polyline points="423.88,323.30 424.33,315.65 424.78,323.30" fill="none" stroke="#8a8a8a" stroke-width="0.45" stroke-linejoin="round" />
<polyline points="427.00,323.30 427.45,315.65 427.90,323.30" fill="none" stroke="#8a8a8a" stroke-width="0.45" stroke-linejoin="round" />
<polyline points="430.13,323.30 430.58,288.01 431.03,323.30" fill="none" stroke="#8a8a8a" stroke-width="0.45" stroke-linejoin="round" />
<polyline points="433.01,323.30 433.46,314.45 433.91,323.30" fill="none" stroke="#8a8a8a" stroke-width="0.45" stroke-linejoin="round" />
<polyline points="435.90,323.30 436.35,293.54 436.80,323.30" fill="none" stroke="#8a8a8a" stroke-width="0.45" stroke-linejoin="round" />
<polyline points="439.02,323.30 439.47,315.65 439.92,323.30" fill="none" stroke="#8a8a8a" stroke-width="0.45" stroke-linejoin="round" />
<polyline points="441.91,323.30 442.36,315.65 442.81,323.30" fill="none" stroke="#8a8a8a" stroke-width="0.45" stroke-linejoin="round" />
<polyline points="445.03,323.30 445.48,316.86 445.93,323.30" fill="none" stroke="#8a8a8a" stroke-width="0.45" stroke-linejoin="round" />
<polyline points="447.92,323.30 448.37,316.86 448.82,323.30" fill="none" stroke="#8a8a8a" stroke-width="0.45" stroke-linejoin="round" />
<polyline points="453.44,323.30 453.89,315.65 454.34,323.30" fill="none" stroke="#8a8a8a" stroke-width="0.45" stroke-linejoin="round" />
<polyline points="467.87,323.30 468.32,315.65 468.77,323.30" fill="none" stroke="#8a8a8a" stroke-width="0.45" stroke-linejoin="round" />
<polyline points="470.99,323.30 471.44,307.96 471.89,323.30" fill="none" stroke="#8a8a8a" stroke-width="0.45" stroke-linejoin="round" />
<polyline points="473.88,323.30 474.33,318.06 474.78,323.30" fill="none" stroke="#8a8a8a" stroke-width="0.45" stroke-linejoin="round" />
<polyline points="477.48,323.30 477.93,299.31 478.38,323.30" fill="none" stroke="#8a8a8a" stroke-width="0.45" stroke-linejoin="round" />
<polyline points="480.37,323.30 480.82,320.46 481.27,323.30" fill="none" stroke="#8a8a8a" stroke-width="0.45" stroke-linejoin="round" />
<polyline points="483.01,323.30 483.46,315.65 483.91,323.30" fill="none" stroke="#8a8a8a" stroke-width="0.45" stroke-linejoin="round" />
<polyline points="485.90,323.30 486.35,304.12 486.80,323.30" fill="none" stroke="#8a8a8a" stroke-width="0.45" stroke-linejoin="round" />
<polyline points="489.02,323.30 489.47,321.66 489.92,323.30" fill="none" stroke="#8a8a8a" stroke-width="0.45" stroke-linejoin="round" />
<polyline points="491.91,323.30 492.36,320.46 492.81,323.30" fill="none" stroke="#8a8a8a" stroke-width="0.45" stroke-linejoin="round" />
<polyline points="497.43,323.30 497.88,316.86 498.33,323.30" fill="none" stroke="#8a8a8a" stroke-width="0.45" stroke-linejoin="round" />
<polyline points="501.52,323.30 501.97,321.66 502.42,323.30" fill="none" stroke="#8a8a8a" stroke-width="0.45" stroke-linejoin="round" />
<polyline points="506.33,323.30 506.78,300.75 507.23,323.30" fill="none" stroke="#8a8a8a" stroke-width="0.45" stroke-linejoin="round" />
<text x="416.00" y="328.40" font-size="3.5" fill="#444" text-anchor="middle">G</text>
<text x="419.14" y="328.40" font-size="3.5" fill="#444" text-anchor="middle">G</text>
<text x="422.28" y="328.40" font-size="3.5" fill="#444" text-anchor="middle">T</text>
<text x="425.41" y="328.40" font-size="3.5" fill="#444" text-anchor="middle">T</text>
<text x="428.55" y="328.40" font-size="3.5" fill="#444" text-anchor="middle">C</text>
<text x="431.69" y="328.40" font-size="3.5" fill="#444" text-anchor="middle">T</text>
<text x="434.83" y="328.40" font-size="3.5" fill="#444" text-anchor="middle">G</text>
<text x="437.97" y="328.40" font-size="3.5" fill="#444" text-anchor="middle">C</text>
<text x="441.10" y="328.40" font-size="3.5" fill="#444" text-anchor="middle">T</text>
<text x="444.24" y="328.40" font-size="3.5" fill="#444" text-anchor="middle">C</text>
<text x="447.38" y="328.40" font-size="3.5" fill="#444" text-anchor="middle">A</text>
<text x="450.52" y="328.40" font-size="3.5" fill="#444" text-anchor="middle">G</text>
<text x="453.66" y="328.40" font-size="3.5" fill="#444" text-anchor="middle">G</text>
<text x="456.79" y="328.40" font-size="3.5" fill="#444" text-anchor="middle">C</text>
<text x="459.93" y="328.40" font-size="3.5" fill="#444" text-anchor="middle">T</text>
<text x="463.07" y="328.40" font-size="3.5" fill="#444" text-anchor="middle">G</text>
<text x="466.21" y="328.40" font-size="3.5" fill="#444" text-anchor="middle">A</text>
<text x="469.34" y="328.40" font-size="3.5" fill="#444" text-anchor="middle">G</text>
<text x="472.48" y="328.40" font-size="3.5" fill="#444" text-anchor="middle">T</text>
<text x="475.62" y="328.40" font-size="3.5" fill="#444" text-anchor="middle">A</text>
<text x="478.76" y="328.40" font-size="3.5" fill="#444" text-anchor="middle">C</text>
<text x="481.90" y="328.40" font-size="3.5" fill="#444" text-anchor="middle">G</text>
<text x="485.03" y="328.40" font-size="3.5" fill="#444" text-anchor="middle">T</text>
<text x="488.17" y="328.40" font-size="3.5" fill="#444" text-anchor="middle">A</text>
<text x="491.31" y="328.40" font-size="3.5" fill="#444" text-anchor="middle">G</text>
<text x="494.45" y="328.40" font-size="3.5" fill="#444" text-anchor="middle">C</text>
<text x="497.59" y="328.40" font-size="3.5" fill="#444" text-anchor="middle">T</text>
<text x="500.72" y="328.40" font-size="3.5" fill="#444" text-anchor="middle">A</text>
<text x="503.86" y="328.40" font-size="3.5" fill="#444" text-anchor="middle">G</text>
<text x="507.00" y="328.40" font-size="3.5" fill="#444" text-anchor="middle">C</text>
<text x="433.00" y="332.90" font-size="3.0" fill="#777" text-anchor="middle">10</text>
<text x="447.00" y="332.90" font-size="3.0" fill="#777" text-anchor="middle">10</text>
<text x="477.00" y="332.90" font-size="3.0" fill="#777" text-anchor="middle">10</text>
<text x="491.00" y="332.90" font-size="3.0" fill="#777" text-anchor="middle">10</text>
<text x="506.00" y="332.90" font-size="3.0" fill="#777" text-anchor="middle">10</text>
<rect x="450.30" y="351.40" width="16.10" height="38.50" fill="#fdee9e" />
<line x1="411.80" y1="351.40" x2="512.80" y2="351.40" stroke="#6a6a6a" stroke-width="0.90" />
<line x1="411.80" y1="361.75" x2="512.80" y2="361.75" stroke="#d6d6d6" stroke-width="0.50" />
<line x1="411.80" y1="369.00" x2="512.80" y2="369.00" stroke="#d6d6d6" stroke-width="0.50" />
<line x1="411.80" y1="376.70" x2="512.80" y2="376.70" stroke="#d6d6d6" stroke-width="0.50" />
<line x1="411.80" y1="384.30" x2="512.80" y2="384.30" stroke="#d6d6d6" stroke-width="0.50" />
<line x1="411.80" y1="351.40" x2="411.80" y2="389.90" stroke="#bdbdbd" stroke-width="0.70" />
<line x1="411.80" y1="389.90" x2="512.80" y2="389.90" stroke="#bdbdbd" stroke-width="0.70" />
<line x1="405.00" y1="361.75" x2="408.80" y2="361.75" stroke="#b0b0b0" stroke-width="1.00" />
<line x1="405.00" y1="369.00" x2="408.80" y2="369.00" stroke="#b0b0b0" stroke-width="1.00" />
<line x1="405.00" y1="376.70" x2="408.80" y2="376.70" stroke="#b0b0b0" stroke-width="1.00" />
<line x1="405.00" y1="384.30" x2="408.80" y2="384.30" stroke="#b0b0b0" stroke-width="1.00" />
<polyline points="411.80,389.20 512.00,389.20" fill="none" stroke="#8c8c8c" stroke-width="0.60" stroke-linejoin="round" />
<polyline points="417.39,389.20 417.84,388.67 418.29,389.20" fill="none" stroke="#8a8a8a" stroke-width="0.45" stroke-linejoin="round" />
<polyline points="420.99,389.20 421.44,381.46 421.89,389.20" fill="none" stroke="#8a8a8a" stroke-width="0.45" stroke-linejoin="round" />
<polyline points="423.88,389.20 424.33,381.46 424.78,389.20" fill="none" stroke="#8a8a8a" stroke-width="0.45" stroke-linejoin="round" />
<polyline points="427.00,389.20 427.45,381.46 427.90,389.20" fill="none" stroke="#8a8a8a" stroke-width="0.45" stroke-linejoin="round" />
<polyline points="430.13,389.20 430.58,352.13 431.03,389.20" fill="none" stroke="#8a8a8a" stroke-width="0.45" stroke-linejoin="round" />
<polyline points="433.01,389.20 433.46,380.26 433.91,389.20" fill="none" stroke="#8a8a8a" stroke-width="0.45" stroke-linejoin="round" />
<polyline points="435.90,389.20 436.35,359.35 436.80,389.20" fill="none" stroke="#8a8a8a" stroke-width="0.45" stroke-linejoin="round" />
<polyline points="439.02,389.20 439.47,381.46 439.92,389.20" fill="none" stroke="#8a8a8a" stroke-width="0.45" stroke-linejoin="round" />
<polyline points="441.91,389.20 442.36,381.94 442.81,389.20" fill="none" stroke="#8a8a8a" stroke-width="0.45" stroke-linejoin="round" />
<polyline points="445.03,389.20 445.48,382.66 445.93,389.20" fill="none" stroke="#8a8a8a" stroke-width="0.45" stroke-linejoin="round" />
<polyline points="447.92,389.20 448.37,382.66 448.82,389.20" fill="none" stroke="#8a8a8a" stroke-width="0.45" stroke-linejoin="round" />
<polyline points="453.44,389.20 453.89,382.66 454.34,389.20" fill="none" stroke="#8a8a8a" stroke-width="0.45" stroke-linejoin="round" />
<polyline points="467.87,389.20 468.32,382.66 468.77,389.20" fill="none" stroke="#8a8a8a" stroke-width="0.45" stroke-linejoin="round" />
<polyline points="471.47,389.20 471.92,370.64 472.37,389.20" fill="none" stroke="#8a8a8a" stroke-width="0.45" stroke-linejoin="round" />
<polyline points="474.36,389.20 474.81,382.66 475.26,389.20" fill="none" stroke="#8a8a8a" stroke-width="0.45" stroke-linejoin="round" />
<polyline points="477.48,389.20 477.93,364.15 478.38,389.20" fill="none" stroke="#8a8a8a" stroke-width="0.45" stroke-linejoin="round" />
<polyline points="480.37,389.20 480.82,385.07 481.27,389.20" fill="none" stroke="#8a8a8a" stroke-width="0.45" stroke-linejoin="round" />
<polyline points="483.49,389.20 483.94,381.46 484.39,389.20" fill="none" stroke="#8a8a8a" stroke-width="0.45" stroke-linejoin="round" />
<polyline points="486.62,389.20 487.07,368.24 487.52,389.20" fill="none" stroke="#8a8a8a" stroke-width="0.45" stroke-linejoin="round" />
<polyline points="489.50,389.20 489.95,385.79 490.40,389.20" fill="none" stroke="#8a8a8a" stroke-width="0.45" stroke-linejoin="round" />
<polyline points="493.11,389.20 493.56,387.47 494.01,389.20" fill="none" stroke="#8a8a8a" stroke-width="0.45" stroke-linejoin="round" />
<polyline points="497.92,389.20 498.37,382.66 498.82,389.20" fill="none" stroke="#8a8a8a" stroke-width="0.45" stroke-linejoin="round" />
<polyline points="502.00,389.20 502.45,386.27 502.90,389.20" fill="none" stroke="#8a8a8a" stroke-width="0.45" stroke-linejoin="round" />
<polyline points="507.05,389.20 507.50,366.56 507.95,389.20" fill="none" stroke="#8a8a8a" stroke-width="0.45" stroke-linejoin="round" />
<text x="416.00" y="394.60" font-size="3.5" fill="#444" text-anchor="middle">G</text>
<text x="419.14" y="394.60" font-size="3.5" fill="#444" text-anchor="middle">G</text>
<text x="422.28" y="394.60" font-size="3.5" fill="#444" text-anchor="middle">T</text>
<text x="425.41" y="394.60" font-size="3.5" fill="#444" text-anchor="middle">T</text>
<text x="428.55" y="394.60" font-size="3.5" fill="#444" text-anchor="middle">C</text>
<text x="431.69" y="394.60" font-size="3.5" fill="#444" text-anchor="middle">T</text>
<text x="434.83" y="394.60" font-size="3.5" fill="#444" text-anchor="middle">G</text>
<text x="437.97" y="394.60" font-size="3.5" fill="#444" text-anchor="middle">C</text>
<text x="441.10" y="394.60" font-size="3.5" fill="#444" text-anchor="middle">T</text>
<text x="444.24" y="394.60" font-size="3.5" fill="#444" text-anchor="middle">C</text>
<text x="447.38" y="394.60" font-size="3.5" fill="#444" text-anchor="middle">A</text>
<text x="450.52" y="394.60" font-size="3.5" fill="#444" text-anchor="middle">G</text>
<text x="453.66" y="394.60" font-size="3.5" fill="#444" text-anchor="middle">G</text>
<text x="456.79" y="394.60" font-size="3.5" fill="#444" text-anchor="middle">C</text>
<text x="459.93" y="394.60" font-size="3.5" fill="#444" text-anchor="middle">T</text>
<text x="463.07" y="394.60" font-size="3.5" fill="#444" text-anchor="middle">G</text>
<text x="466.21" y="394.60" font-size="3.5" fill="#444" text-anchor="middle">A</text>
<text x="469.34" y="394.60" font-size="3.5" fill="#444" text-anchor="middle">G</text>
<text x="472.48" y="394.60" font-size="3.5" fill="#444" text-anchor="middle">T</text>
<text x="475.62" y="394.60" font-size="3.5" fill="#444" text-anchor="middle">A</text>
<text x="478.76" y="394.60" font-size="3.5" fill="#444" text-anchor="middle">C</text>
<text x="481.90" y="394.60" font-size="3.5" fill="#444" text-anchor="middle">G</text>
<text x="485.03" y="394.60" font-size="3.5" fill="#444" text-anchor="middle">T</text>
<text x="488.17" y="394.60" font-size="3.5" fill="#444" text-anchor="middle">A</text>
<text x="491.31" y="394.60" font-size="3.5" fill="#444" text-anchor="middle">G</text>
<text x="494.45" y="394.60" font-size="3.5" fill="#444" text-anchor="middle">C</text>
<text x="497.59" y="394.60" font-size="3.5" fill="#444" text-anchor="middle">T</text>
<text x="500.72" y="394.60" font-size="3.5" fill="#444" text-anchor="middle">A</text>
<text x="503.86" y="394.60" font-size="3.5" fill="#444" text-anchor="middle">G</text>
<text x="507.00" y="394.60" font-size="3.5" fill="#444" text-anchor="middle">C</text>
<text x="433.00" y="398.60" font-size="3.0" fill="#777" text-anchor="middle">10</text>
<text x="477.00" y="398.60" font-size="3.0" fill="#777" text-anchor="middle">10</text>
<text x="506.00" y="398.60" font-size="3.0" fill="#777" text-anchor="middle">10</text>
<polygon points="55.70,333.80 52.50,340.80 55.70,339.60 58.90,340.80" fill="#000" />
<line x1="55.70" y1="339.30" x2="55.70" y2="346.50" stroke="#000" stroke-width="1.50" />
<polygon points="62.20,333.80 59.00,340.80 62.20,339.60 65.40,340.80" fill="#000" />
<line x1="62.20" y1="339.30" x2="62.20" y2="346.50" stroke="#000" stroke-width="1.50" />
<polygon points="68.50,333.80 65.30,340.80 68.50,339.60 71.70,340.80" fill="#000" />
<line x1="68.50" y1="339.30" x2="68.50" y2="346.50" stroke="#000" stroke-width="1.50" />
<polygon points="181.50,334.20 178.30,341.20 181.50,340.00 184.70,341.20" fill="#000" />
<line x1="181.50" y1="339.70" x2="181.50" y2="346.50" stroke="#000" stroke-width="1.50" />
<polygon points="186.20,334.20 183.00,341.20 186.20,340.00 189.40,341.20" fill="#000" />
<line x1="186.20" y1="339.70" x2="186.20" y2="346.50" stroke="#000" stroke-width="1.50" />
<polygon points="191.00,334.20 187.80,341.20 191.00,340.00 194.20,341.20" fill="#000" />
<line x1="191.00" y1="339.70" x2="191.00" y2="346.50" stroke="#000" stroke-width="1.50" />
<polygon points="319.80,332.50 316.60,339.50 319.80,338.30 323.00,339.50" fill="#000" />
<line x1="319.80" y1="338.00" x2="319.80" y2="345.40" stroke="#000" stroke-width="1.50" />
<polygon points="325.20,332.50 322.00,339.50 325.20,338.30 328.40,339.50" fill="#000" />
<line x1="325.20" y1="338.00" x2="325.20" y2="345.40" stroke="#000" stroke-width="1.50" />
<polygon points="331.40,332.50 328.20,339.50 331.40,338.30 334.60,339.50" fill="#000" />
<line x1="331.40" y1="338.00" x2="331.40" y2="345.40" stroke="#000" stroke-width="1.50" />
<polygon points="449.80,332.90 446.60,339.90 449.80,338.70 453.00,339.90" fill="#000" />
<line x1="449.80" y1="338.40" x2="449.80" y2="345.00" stroke="#000" stroke-width="1.50" />
<polygon points="457.00,332.90 453.80,339.90 457.00,338.70 460.20,339.90" fill="#000" />
<line x1="457.00" y1="338.40" x2="457.00" y2="345.00" stroke="#000" stroke-width="1.50" />
<polygon points="460.40,332.90 457.20,339.90 460.40,338.70 463.60,339.90" fill="#000" />
<line x1="460.40" y1="338.40" x2="460.40" y2="345.00" stroke="#000" stroke-width="1.50" />
<polygon points="463.50,332.90 460.30,339.90 463.50,338.70 466.70,339.90" fill="#000" />
<line x1="463.50" y1="338.40" x2="463.50" y2="345.00" stroke="#000" stroke-width="1.50" />
<polygon points="54.60,397.70 51.40,404.70 54.60,403.50 57.80,404.70" fill="#000" />
<line x1="54.60" y1="403.20" x2="54.60" y2="410.80" stroke="#000" stroke-width="1.50" />
<polygon points="61.50,397.70 58.30,404.70 61.50,403.50 64.70,404.70" fill="#000" />
<line x1="61.50" y1="403.20" x2="61.50" y2="410.80" stroke="#000" stroke-width="1.50" />
<polygon points="66.90,397.70 63.70,404.70 66.90,403.50 70.10,404.70" fill="#000" />
<line x1="66.90" y1="403.20" x2="66.90" y2="410.80" stroke="#000" stroke-width="1.50" />
<polygon points="181.50,397.70 178.30,404.70 181.50,403.50 184.70,404.70" fill="#000" />
<line x1="181.50" y1="403.20" x2="181.50" y2="410.80" stroke="#000" stroke-width="1.50" />
<polygon points="186.20,397.70 183.00,404.70 186.20,403.50 189.40,404.70" fill="#000" />
<line x1="186.20" y1="403.20" x2="186.20" y2="410.80" stroke="#000" stroke-width="1.50" />
<polygon points="191.00,397.70 187.80,404.70 191.00,403.50 194.20,404.70" fill="#000" />
<line x1="191.00" y1="403.20" x2="191.00" y2="410.80" stroke="#000" stroke-width="1.50" />
<polygon points="319.80,397.70 316.60,404.70 319.80,403.50 323.00,404.70" fill="#000" />
<line x1="319.80" y1="403.20" x2="319.80" y2="409.00" stroke="#000" stroke-width="1.50" />
<polygon points="325.20,397.70 322.00,404.70 325.20,403.50 328.40,404.70" fill="#000" />
<line x1="325.20" y1="403.20" x2="325.20" y2="409.00" stroke="#000" stroke-width="1.50" />
<polygon points="331.40,397.70 328.20,404.70 331.40,403.50 334.60,404.70" fill="#000" />
<line x1="331.40" y1="403.20" x2="331.40" y2="409.00" stroke="#000" stroke-width="1.50" />
<polygon points="449.80,397.60 446.60,404.60 449.80,403.40 453.00,404.60" fill="#000" />
<line x1="449.80" y1="403.10" x2="449.80" y2="409.80" stroke="#000" stroke-width="1.50" />
<polygon points="457.00,397.60 453.80,404.60 457.00,403.40 460.20,404.60" fill="#000" />
<line x1="457.00" y1="403.10" x2="457.00" y2="409.80" stroke="#000" stroke-width="1.50" />
<polygon points="460.40,397.60 457.20,404.60 460.40,403.40 463.60,404.60" fill="#000" />
<line x1="460.40" y1="403.10" x2="460.40" y2="409.80" stroke="#000" stroke-width="1.50" />
<polygon points="463.50,397.60 460.30,404.60 463.50,403.40 466.70,404.60" fill="#000" />
<line x1="463.50" y1="403.10" x2="463.50" y2="409.80" stroke="#000" stroke-width="1.50" />
<text transform="translate(1.20,429.50) scale(0.7621,1)" font-size="12.00" fill="#000" stroke="#000" stroke-width="0.33" stroke-linejoin="round"><tspan font-weight="bold" font-style="normal">E</tspan></text>
<line x1="45.40" y1="424.00" x2="45.40" y2="535.00" stroke="#000" stroke-width="2.20" />
<line x1="44.40" y1="534.00" x2="177.20" y2="534.00" stroke="#000" stroke-width="2.20" />
<line x1="42.40" y1="534.00" x2="45.40" y2="534.00" stroke="#000" stroke-width="1.00" />
<line x1="43.80" y1="522.98" x2="45.40" y2="522.98" stroke="#000" stroke-width="1.00" />
<line x1="43.80" y1="516.54" x2="45.40" y2="516.54" stroke="#000" stroke-width="1.00" />
<line x1="43.80" y1="511.96" x2="45.40" y2="511.96" stroke="#000" stroke-width="1.00" />
<line x1="43.80" y1="508.42" x2="45.40" y2="508.42" stroke="#000" stroke-width="1.00" />
<line x1="43.80" y1="505.52" x2="45.40" y2="505.52" stroke="#000" stroke-width="1.00" />
<line x1="43.80" y1="503.07" x2="45.40" y2="503.07" stroke="#000" stroke-width="1.00" />
<line x1="43.80" y1="500.95" x2="45.40" y2="500.95" stroke="#000" stroke-width="1.00" />
<line x1="43.80" y1="499.07" x2="45.40" y2="499.07" stroke="#000" stroke-width="1.00" />
<line x1="42.40" y1="497.40" x2="45.40" y2="497.40" stroke="#000" stroke-width="1.00" />
<line x1="43.80" y1="486.38" x2="45.40" y2="486.38" stroke="#000" stroke-width="1.00" />
<line x1="43.80" y1="479.94" x2="45.40" y2="479.94" stroke="#000" stroke-width="1.00" />
<line x1="43.80" y1="475.36" x2="45.40" y2="475.36" stroke="#000" stroke-width="1.00" />
<line x1="43.80" y1="471.82" x2="45.40" y2="471.82" stroke="#000" stroke-width="1.00" />
<line x1="43.80" y1="468.92" x2="45.40" y2="468.92" stroke="#000" stroke-width="1.00" />
<line x1="43.80" y1="466.47" x2="45.40" y2="466.47" stroke="#000" stroke-width="1.00" />
<line x1="43.80" y1="464.35" x2="45.40" y2="464.35" stroke="#000" stroke-width="1.00" />
<line x1="43.80" y1="462.47" x2="45.40" y2="462.47" stroke="#000" stroke-width="1.00" />
<line x1="42.40" y1="460.80" x2="45.40" y2="460.80" stroke="#000" stroke-width="1.00" />
<line x1="43.80" y1="449.78" x2="45.40" y2="449.78" stroke="#000" stroke-width="1.00" />
<line x1="43.80" y1="443.34" x2="45.40" y2="443.34" stroke="#000" stroke-width="1.00" />
<line x1="43.80" y1="438.76" x2="45.40" y2="438.76" stroke="#000" stroke-width="1.00" />
<line x1="43.80" y1="435.22" x2="45.40" y2="435.22" stroke="#000" stroke-width="1.00" />
<line x1="43.80" y1="432.32" x2="45.40" y2="432.32" stroke="#000" stroke-width="1.00" />
<line x1="43.80" y1="429.87" x2="45.40" y2="429.87" stroke="#000" stroke-width="1.00" />
<line x1="43.80" y1="427.75" x2="45.40" y2="427.75" stroke="#000" stroke-width="1.00" />
<line x1="43.80" y1="425.87" x2="45.40" y2="425.87" stroke="#000" stroke-width="1.00" />
<line x1="42.40" y1="424.20" x2="45.40" y2="424.20" stroke="#000" stroke-width="1.00" />
<line x1="45.40" y1="534.00" x2="45.40" y2="536.80" stroke="#000" stroke-width="1.30" />
<line x1="71.40" y1="534.00" x2="71.40" y2="536.80" stroke="#000" stroke-width="1.30" />
<line x1="97.40" y1="534.00" x2="97.40" y2="536.80" stroke="#000" stroke-width="1.30" />
<line x1="123.40" y1="534.00" x2="123.40" y2="536.80" stroke="#000" stroke-width="1.30" />
<line x1="149.40" y1="534.00" x2="149.40" y2="536.80" stroke="#000" stroke-width="1.30" />
<line x1="175.40" y1="534.00" x2="175.40" y2="536.80" stroke="#000" stroke-width="1.30" />
<text transform="translate(31.90,427.80) scale(0.7420,1)" font-size="8.40" fill="#000" stroke="#000" stroke-width="0.47" stroke-linejoin="round"><tspan font-weight="bold" font-style="normal">100</tspan></text>
<text transform="translate(36.00,464.40) scale(0.7813,1)" font-size="8.40" fill="#000" stroke="#000" stroke-width="0.45" stroke-linejoin="round"><tspan font-weight="bold" font-style="normal">10</tspan></text>
<text transform="translate(40.30,500.00) scale(0.6850,1)" font-size="8.40" fill="#000" stroke="#000" stroke-width="0.51" stroke-linejoin="round"><tspan font-weight="bold" font-style="normal">1</tspan></text>
<text transform="translate(31.00,535.80) scale(0.9420,1)" font-size="8.40" fill="#000" stroke="#000" stroke-width="0.37" stroke-linejoin="round"><tspan font-weight="bold" font-style="normal">0.1</tspan></text>
<text transform="translate(43.85,544.90) scale(0.7151,1)" font-size="8.80" fill="#000" stroke="#000" stroke-width="0.49" stroke-linejoin="round"><tspan font-weight="bold" font-style="normal">0</tspan></text>
<text transform="translate(68.10,544.90) scale(0.7151,1)" font-size="8.80" fill="#000" stroke="#000" stroke-width="0.49" stroke-linejoin="round"><tspan font-weight="bold" font-style="normal">20</tspan></text>
<text transform="translate(94.10,544.90) scale(0.7151,1)" font-size="8.80" fill="#000" stroke="#000" stroke-width="0.49" stroke-linejoin="round"><tspan font-weight="bold" font-style="normal">40</tspan></text>
<text transform="translate(120.10,544.90) scale(0.7151,1)" font-size="8.80" fill="#000" stroke="#000" stroke-width="0.49" stroke-linejoin="round"><tspan font-weight="bold" font-style="normal">60</tspan></text>
<text transform="translate(146.10,544.90) scale(0.7151,1)" font-size="8.80" fill="#000" stroke="#000" stroke-width="0.49" stroke-linejoin="round"><tspan font-weight="bold" font-style="normal">80</tspan></text>
<text transform="translate(170.35,544.90) scale(0.7151,1)" font-size="8.80" fill="#000" stroke="#000" stroke-width="0.49" stroke-linejoin="round"><tspan font-weight="bold" font-style="normal">100</tspan></text>
<text transform="translate(96.50,561.30) scale(0.7888,1)" font-size="9.30" fill="#000" stroke="#000" stroke-width="0.38" stroke-linejoin="round"><tspan font-weight="bold" font-style="normal">Blast %</tspan></text>
<text transform="translate(31.20,521.40) rotate(-90) scale(1.2617,1)" font-size="7.00" fill="#000" stroke="#000" stroke-width="0.30" stroke-linejoin="round"><tspan font-weight="bold" font-style="normal">Mutant clone size (%)</tspan></text>
<circle cx="67.70" cy="434.60" r="1.75" fill="#a8243a"/>
<circle cx="67.70" cy="443.10" r="1.75" fill="#a8243a"/>
<circle cx="75.40" cy="450.00" r="1.75" fill="#a8243a"/>
<circle cx="65.10" cy="454.20" r="1.75" fill="#a8243a"/>
<circle cx="93.50" cy="436.20" r="1.75" fill="#a8243a"/>
<circle cx="97.40" cy="445.40" r="1.75" fill="#a8243a"/>
<circle cx="94.90" cy="452.80" r="1.75" fill="#a8243a"/>
<circle cx="100.30" cy="454.60" r="1.75" fill="#a8243a"/>
<circle cx="110.50" cy="452.80" r="1.75" fill="#a8243a"/>
<circle cx="87.20" cy="460.80" r="1.75" fill="#a8243a"/>
<circle cx="91.20" cy="469.50" r="1.75" fill="#a8243a"/>
<circle cx="98.90" cy="476.60" r="1.75" fill="#a8243a"/>
<circle cx="71.50" cy="476.60" r="1.75" fill="#a8243a"/>
<circle cx="140.50" cy="428.50" r="1.75" fill="#a8243a"/>
<circle cx="145.70" cy="438.20" r="1.75" fill="#a8243a"/>
<circle cx="48.00" cy="465.60" r="1.8" fill="#ec5a50" stroke="#d81c26" stroke-width="1.1"/>
<circle cx="53.50" cy="465.60" r="1.8" fill="#ec5a50" stroke="#d81c26" stroke-width="1.1"/>
<circle cx="57.40" cy="470.50" r="1.8" fill="#ec5a50" stroke="#d81c26" stroke-width="1.1"/>
<circle cx="50.80" cy="480.00" r="1.8" fill="#ec5a50" stroke="#d81c26" stroke-width="1.1"/>
<circle cx="52.30" cy="483.50" r="1.8" fill="#ec5a50" stroke="#d81c26" stroke-width="1.1"/>
<circle cx="47.20" cy="494.30" r="1.8" fill="#ec5a50" stroke="#d81c26" stroke-width="1.1"/>
<circle cx="57.40" cy="492.80" r="1.8" fill="#ec5a50" stroke="#d81c26" stroke-width="1.1"/>
<circle cx="54.60" cy="497.40" r="1.8" fill="#ec5a50" stroke="#d81c26" stroke-width="1.1"/>
<circle cx="46.90" cy="502.30" r="1.8" fill="#ec5a50" stroke="#d81c26" stroke-width="1.1"/>
<circle cx="46.50" cy="500.50" r="1.8" fill="#ec5a50" stroke="#d81c26" stroke-width="1.1"/>
<circle cx="58.50" cy="507.40" r="1.8" fill="#ec5a50" stroke="#d81c26" stroke-width="1.1"/>
<circle cx="66.50" cy="507.40" r="1.8" fill="#ec5a50" stroke="#d81c26" stroke-width="1.1"/>
<circle cx="48.20" cy="511.50" r="1.8" fill="#ec5a50" stroke="#d81c26" stroke-width="1.1"/>
<circle cx="51.50" cy="513.10" r="1.8" fill="#ec5a50" stroke="#d81c26" stroke-width="1.1"/>
<circle cx="54.60" cy="512.30" r="1.8" fill="#ec5a50" stroke="#d81c26" stroke-width="1.1"/>
<circle cx="51.50" cy="516.20" r="1.8" fill="#ec5a50" stroke="#d81c26" stroke-width="1.1"/>
<circle cx="53.80" cy="518.50" r="1.8" fill="#ec5a50" stroke="#d81c26" stroke-width="1.1"/>
<circle cx="51.20" cy="519.20" r="1.8" fill="#ec5a50" stroke="#d81c26" stroke-width="1.1"/>
<circle cx="53.40" cy="523.00" r="1.8" fill="#ec5a50" stroke="#d81c26" stroke-width="1.1"/>
<circle cx="139.8" cy="501.5" r="1.75" fill="#a8283a"/>
<circle cx="140.2" cy="513.0" r="1.95" fill="#ec5a50" stroke="#d81c26" stroke-width="1.2"/>
<text transform="translate(145.60,504.10) scale(0.8304,1)" font-size="7.60" fill="#000" stroke="#000" stroke-width="0.36" stroke-linejoin="round"><tspan font-weight="bold" font-style="normal">Clinical TAM</tspan></text>
<text transform="translate(145.60,516.10) scale(0.8242,1)" font-size="7.60" fill="#000" stroke="#000" stroke-width="0.36" stroke-linejoin="round"><tspan font-weight="bold" font-style="normal">Silent TAM</tspan></text>
<text transform="translate(200.40,429.50) scale(0.8594,1)" font-size="12.00" fill="#000" stroke="#000" stroke-width="0.29" stroke-linejoin="round"><tspan font-weight="bold" font-style="normal">F</tspan></text>
<line x1="228.80" y1="434.30" x2="228.80" y2="481.20" stroke="#000" stroke-width="2.10" />
<line x1="225.60" y1="481.00" x2="231.80" y2="481.00" stroke="#000" stroke-width="1.50" />
<line x1="228.80" y1="489.60" x2="228.80" y2="536.50" stroke="#000" stroke-width="2.10" />
<line x1="225.60" y1="489.80" x2="231.80" y2="489.80" stroke="#000" stroke-width="1.50" />
<line x1="225.40" y1="475.70" x2="228.80" y2="475.70" stroke="#000" stroke-width="1.20" />
<line x1="225.40" y1="465.52" x2="228.80" y2="465.52" stroke="#000" stroke-width="1.20" />
<line x1="225.40" y1="455.35" x2="228.80" y2="455.35" stroke="#000" stroke-width="1.20" />
<line x1="225.40" y1="445.18" x2="228.80" y2="445.18" stroke="#000" stroke-width="1.20" />
<line x1="225.40" y1="435.00" x2="228.80" y2="435.00" stroke="#000" stroke-width="1.20" />
<line x1="225.40" y1="535.60" x2="228.80" y2="535.60" stroke="#000" stroke-width="1.20" />
<line x1="225.40" y1="526.40" x2="228.80" y2="526.40" stroke="#000" stroke-width="1.20" />
<line x1="225.40" y1="517.20" x2="228.80" y2="517.20" stroke="#000" stroke-width="1.20" />
<line x1="225.40" y1="508.00" x2="228.80" y2="508.00" stroke="#000" stroke-width="1.20" />
<line x1="225.40" y1="498.80" x2="228.80" y2="498.80" stroke="#000" stroke-width="1.20" />
<line x1="225.40" y1="489.60" x2="228.80" y2="489.60" stroke="#000" stroke-width="1.20" />
<line x1="227.80" y1="535.90" x2="368.30" y2="535.90" stroke="#000" stroke-width="2.10" />
<line x1="251.70" y1="535.90" x2="251.70" y2="539.40" stroke="#000" stroke-width="1.30" />
<line x1="298.00" y1="535.90" x2="298.00" y2="539.40" stroke="#000" stroke-width="1.30" />
<line x1="343.30" y1="535.90" x2="343.30" y2="539.40" stroke="#000" stroke-width="1.30" />
<text transform="translate(213.11,437.70) scale(0.9061,1)" font-size="7.60" fill="#000" stroke="#000" stroke-width="0.39" stroke-linejoin="round"><tspan font-weight="bold" font-style="normal">100</tspan></text>
<text transform="translate(216.94,447.88) scale(0.9061,1)" font-size="7.60" fill="#000" stroke="#000" stroke-width="0.39" stroke-linejoin="round"><tspan font-weight="bold" font-style="normal">80</tspan></text>
<text transform="translate(216.94,458.05) scale(0.9061,1)" font-size="7.60" fill="#000" stroke="#000" stroke-width="0.39" stroke-linejoin="round"><tspan font-weight="bold" font-style="normal">60</tspan></text>
<text transform="translate(216.94,468.22) scale(0.9061,1)" font-size="7.60" fill="#000" stroke="#000" stroke-width="0.39" stroke-linejoin="round"><tspan font-weight="bold" font-style="normal">40</tspan></text>
<text transform="translate(216.94,478.40) scale(0.9061,1)" font-size="7.60" fill="#000" stroke="#000" stroke-width="0.39" stroke-linejoin="round"><tspan font-weight="bold" font-style="normal">20</tspan></text>
<text transform="translate(216.94,492.30) scale(0.9061,1)" font-size="7.60" fill="#000" stroke="#000" stroke-width="0.39" stroke-linejoin="round"><tspan font-weight="bold" font-style="normal">10</tspan></text>
<text transform="translate(220.77,501.50) scale(0.9061,1)" font-size="7.60" fill="#000" stroke="#000" stroke-width="0.39" stroke-linejoin="round"><tspan font-weight="bold" font-style="normal">8</tspan></text>
<text transform="translate(220.77,510.70) scale(0.9061,1)" font-size="7.60" fill="#000" stroke="#000" stroke-width="0.39" stroke-linejoin="round"><tspan font-weight="bold" font-style="normal">6</tspan></text>
<text transform="translate(220.77,519.90) scale(0.9061,1)" font-size="7.60" fill="#000" stroke="#000" stroke-width="0.39" stroke-linejoin="round"><tspan font-weight="bold" font-style="normal">4</tspan></text>
<text transform="translate(220.77,529.10) scale(0.9061,1)" font-size="7.60" fill="#000" stroke="#000" stroke-width="0.39" stroke-linejoin="round"><tspan font-weight="bold" font-style="normal">2</tspan></text>
<text transform="translate(220.77,538.30) scale(0.9061,1)" font-size="7.60" fill="#000" stroke="#000" stroke-width="0.39" stroke-linejoin="round"><tspan font-weight="bold" font-style="normal">0</tspan></text>
<text transform="translate(207.70,504.20) rotate(-90) scale(1.0174,1)" font-size="9.40" fill="#000" stroke="#000" stroke-width="0.30" stroke-linejoin="round"><tspan font-weight="bold" font-style="normal">% blasts</tspan></text>
<polyline points="251.40,429.40 251.40,424.50 343.20,424.50 343.20,429.40" fill="none" stroke="#000" stroke-width="1.50" stroke-linejoin="round" stroke-linejoin="miter"/>
<polyline points="251.40,442.70 251.40,437.20 299.30,437.20 299.30,442.70" fill="none" stroke="#000" stroke-width="1.50" stroke-linejoin="round" stroke-linejoin="miter"/>
<circle cx="289.20" cy="420.30" r="1.05" fill="#000"/>
<circle cx="292.50" cy="420.30" r="1.05" fill="#000"/>
<circle cx="295.80" cy="420.30" r="1.05" fill="#000"/>
<circle cx="274.10" cy="433.30" r="1.05" fill="#000"/>
<circle cx="277.40" cy="433.30" r="1.05" fill="#000"/>
<circle cx="280.70" cy="433.30" r="1.05" fill="#000"/>
<text transform="translate(244.60,550.40) scale(0.9058,1)" font-size="7.60" fill="#000" stroke="#000" stroke-width="0.33" stroke-linejoin="round"><tspan font-weight="bold" font-style="normal">TAM</tspan></text>
<text transform="translate(285.60,550.40) scale(0.9251,1)" font-size="7.60" fill="#000" stroke="#000" stroke-width="0.32" stroke-linejoin="round"><tspan font-weight="bold" font-style="normal">SILENT</tspan></text>
<text transform="translate(290.40,558.70) scale(0.8680,1)" font-size="7.60" fill="#000" stroke="#000" stroke-width="0.35" stroke-linejoin="round"><tspan font-weight="bold" font-style="normal">TAM</tspan></text>
<text transform="translate(328.80,550.40) scale(0.9098,1)" font-size="7.60" fill="#000" stroke="#000" stroke-width="0.33" stroke-linejoin="round"><tspan font-weight="bold" font-style="normal">NO </tspan><tspan font-weight="bold" font-style="italic">GATA1</tspan></text>
<text transform="translate(329.20,558.70) scale(0.9288,1)" font-size="7.60" fill="#000" stroke="#000" stroke-width="0.32" stroke-linejoin="round"><tspan font-weight="bold" font-style="normal">MUTATION</tspan></text>
<circle cx="252.00" cy="447.30" r="0.95" fill="#e8252a"/>
<circle cx="248.80" cy="463.40" r="0.95" fill="#e8252a"/>
<circle cx="252.20" cy="466.20" r="0.95" fill="#e8252a"/>
<circle cx="254.70" cy="466.20" r="0.95" fill="#e8252a"/>
<circle cx="244.50" cy="468.30" r="0.95" fill="#e8252a"/>
<circle cx="247.30" cy="468.50" r="0.95" fill="#e8252a"/>
<circle cx="250.00" cy="468.50" r="0.95" fill="#e8252a"/>
<circle cx="253.00" cy="468.50" r="0.95" fill="#e8252a"/>
<circle cx="256.00" cy="468.50" r="0.95" fill="#e8252a"/>
<circle cx="259.00" cy="468.50" r="0.95" fill="#e8252a"/>
<circle cx="251.50" cy="470.20" r="0.95" fill="#e8252a"/>
<circle cx="253.50" cy="470.00" r="0.95" fill="#e8252a"/>
<circle cx="247.50" cy="475.40" r="0.95" fill="#e8252a"/>
<circle cx="249.80" cy="477.50" r="0.95" fill="#e8252a"/>
<circle cx="252.30" cy="478.40" r="0.95" fill="#e8252a"/>
<circle cx="255.00" cy="477.20" r="0.95" fill="#e8252a"/>
<circle cx="257.30" cy="475.90" r="0.95" fill="#e8252a"/>
<line x1="243.50" y1="471.60" x2="259.60" y2="471.60" stroke="#e8252a" stroke-width="1.00" />
<circle cx="297.70" cy="478.10" r="1.42" fill="#d42a2e"/>
<circle cx="297.70" cy="489.60" r="1.42" fill="#d42a2e"/>
<circle cx="296.20" cy="494.40" r="1.42" fill="#d42a2e"/>
<circle cx="299.00" cy="494.40" r="1.42" fill="#d42a2e"/>
<circle cx="296.20" cy="503.70" r="1.42" fill="#d42a2e"/>
<circle cx="299.00" cy="503.70" r="1.42" fill="#d42a2e"/>
<circle cx="294.80" cy="508.50" r="1.42" fill="#d42a2e"/>
<circle cx="297.70" cy="508.50" r="1.42" fill="#d42a2e"/>
<circle cx="300.60" cy="508.50" r="1.42" fill="#d42a2e"/>
<circle cx="297.70" cy="512.70" r="1.42" fill="#d42a2e"/>
<circle cx="293.30" cy="517.10" r="1.42" fill="#d42a2e"/>
<circle cx="296.20" cy="517.10" r="1.42" fill="#d42a2e"/>
<circle cx="299.00" cy="517.10" r="1.42" fill="#d42a2e"/>
<circle cx="301.90" cy="517.10" r="1.42" fill="#d42a2e"/>
<circle cx="296.20" cy="526.70" r="1.42" fill="#d42a2e"/>
<circle cx="299.00" cy="526.70" r="1.42" fill="#d42a2e"/>
<circle cx="294.80" cy="531.50" r="1.42" fill="#d42a2e"/>
<circle cx="297.70" cy="531.50" r="1.42" fill="#d42a2e"/>
<circle cx="300.60" cy="531.50" r="1.42" fill="#d42a2e"/>
<line x1="292.80" y1="512.90" x2="302.80" y2="512.90" stroke="#d42a2e" stroke-width="0.90" />
<circle cx="341.30" cy="480.60" r="1.12" fill="#0a0a0a"/>
<circle cx="343.70" cy="480.60" r="1.12" fill="#0a0a0a"/>
<circle cx="347.10" cy="478.70" r="1.12" fill="#0a0a0a"/>
<circle cx="329.20" cy="519.60" r="1.12" fill="#0a0a0a"/>
<circle cx="342.70" cy="489.60" r="1.12" fill="#0a0a0a"/>
<circle cx="345.20" cy="489.60" r="1.12" fill="#0a0a0a"/>
<circle cx="342.70" cy="494.40" r="1.12" fill="#0a0a0a"/>
<circle cx="345.20" cy="494.40" r="1.12" fill="#0a0a0a"/>
<circle cx="336.90" cy="499.20" r="1.12" fill="#0a0a0a"/>
<circle cx="339.60" cy="499.20" r="1.12" fill="#0a0a0a"/>
<circle cx="342.30" cy="499.20" r="1.12" fill="#0a0a0a"/>
<circle cx="345.00" cy="499.20" r="1.12" fill="#0a0a0a"/>
<circle cx="347.70" cy="499.20" r="1.12" fill="#0a0a0a"/>
<circle cx="350.40" cy="499.20" r="1.12" fill="#0a0a0a"/>
<circle cx="341.30" cy="503.70" r="1.12" fill="#0a0a0a"/>
<circle cx="343.90" cy="503.70" r="1.12" fill="#0a0a0a"/>
<circle cx="346.50" cy="503.70" r="1.12" fill="#0a0a0a"/>
<circle cx="335.60" cy="508.50" r="1.12" fill="#0a0a0a"/>
<circle cx="338.25" cy="508.50" r="1.12" fill="#0a0a0a"/>
<circle cx="340.90" cy="508.50" r="1.12" fill="#0a0a0a"/>
<circle cx="343.55" cy="508.50" r="1.12" fill="#0a0a0a"/>
<circle cx="346.20" cy="508.50" r="1.12" fill="#0a0a0a"/>
<circle cx="348.85" cy="508.50" r="1.12" fill="#0a0a0a"/>
<circle cx="351.50" cy="508.50" r="1.12" fill="#0a0a0a"/>
<circle cx="331.20" cy="512.70" r="1.12" fill="#0a0a0a"/>
<circle cx="333.85" cy="512.70" r="1.12" fill="#0a0a0a"/>
<circle cx="336.50" cy="512.70" r="1.12" fill="#0a0a0a"/>
<circle cx="339.15" cy="512.70" r="1.12" fill="#0a0a0a"/>
<circle cx="341.80" cy="512.70" r="1.12" fill="#0a0a0a"/>
<circle cx="344.45" cy="512.70" r="1.12" fill="#0a0a0a"/>
<circle cx="347.10" cy="512.70" r="1.12" fill="#0a0a0a"/>
<circle cx="349.75" cy="512.70" r="1.12" fill="#0a0a0a"/>
<circle cx="352.40" cy="512.70" r="1.12" fill="#0a0a0a"/>
<circle cx="355.05" cy="512.70" r="1.12" fill="#0a0a0a"/>
<circle cx="357.70" cy="512.70" r="1.12" fill="#0a0a0a"/>
<circle cx="331.20" cy="517.10" r="1.12" fill="#0a0a0a"/>
<circle cx="333.85" cy="517.10" r="1.12" fill="#0a0a0a"/>
<circle cx="336.50" cy="517.10" r="1.12" fill="#0a0a0a"/>
<circle cx="339.15" cy="517.10" r="1.12" fill="#0a0a0a"/>
<circle cx="341.80" cy="517.10" r="1.12" fill="#0a0a0a"/>
<circle cx="344.45" cy="517.10" r="1.12" fill="#0a0a0a"/>
<circle cx="347.10" cy="517.10" r="1.12" fill="#0a0a0a"/>
<circle cx="349.75" cy="517.10" r="1.12" fill="#0a0a0a"/>
<circle cx="352.40" cy="517.10" r="1.12" fill="#0a0a0a"/>
<circle cx="355.05" cy="517.10" r="1.12" fill="#0a0a0a"/>
<circle cx="357.70" cy="517.10" r="1.12" fill="#0a0a0a"/>
<circle cx="332.70" cy="521.90" r="1.12" fill="#0a0a0a"/>
<circle cx="335.39" cy="521.90" r="1.12" fill="#0a0a0a"/>
<circle cx="338.08" cy="521.90" r="1.12" fill="#0a0a0a"/>
<circle cx="340.77" cy="521.90" r="1.12" fill="#0a0a0a"/>
<circle cx="343.46" cy="521.90" r="1.12" fill="#0a0a0a"/>
<circle cx="346.15" cy="521.90" r="1.12" fill="#0a0a0a"/>
<circle cx="348.84" cy="521.90" r="1.12" fill="#0a0a0a"/>
<circle cx="351.53" cy="521.90" r="1.12" fill="#0a0a0a"/>
<circle cx="354.22" cy="521.90" r="1.12" fill="#0a0a0a"/>
<circle cx="356.91" cy="521.90" r="1.12" fill="#0a0a0a"/>
<circle cx="359.60" cy="521.90" r="1.12" fill="#0a0a0a"/>
<circle cx="336.50" cy="526.70" r="1.12" fill="#0a0a0a"/>
<circle cx="339.40" cy="526.70" r="1.12" fill="#0a0a0a"/>
<circle cx="342.30" cy="526.70" r="1.12" fill="#0a0a0a"/>
<circle cx="345.20" cy="526.70" r="1.12" fill="#0a0a0a"/>
<circle cx="348.10" cy="526.70" r="1.12" fill="#0a0a0a"/>
<circle cx="351.00" cy="526.70" r="1.12" fill="#0a0a0a"/>
<circle cx="336.90" cy="531.50" r="1.12" fill="#0a0a0a"/>
<circle cx="339.52" cy="531.50" r="1.12" fill="#0a0a0a"/>
<circle cx="342.14" cy="531.50" r="1.12" fill="#0a0a0a"/>
<circle cx="344.76" cy="531.50" r="1.12" fill="#0a0a0a"/>
<circle cx="347.38" cy="531.50" r="1.12" fill="#0a0a0a"/>
<circle cx="350.00" cy="531.50" r="1.12" fill="#0a0a0a"/>
<rect x="334.8" y="511.8" width="17.0" height="3.4" fill="none" stroke="#000" stroke-width="1.0"/>
</svg>
</body></html>
